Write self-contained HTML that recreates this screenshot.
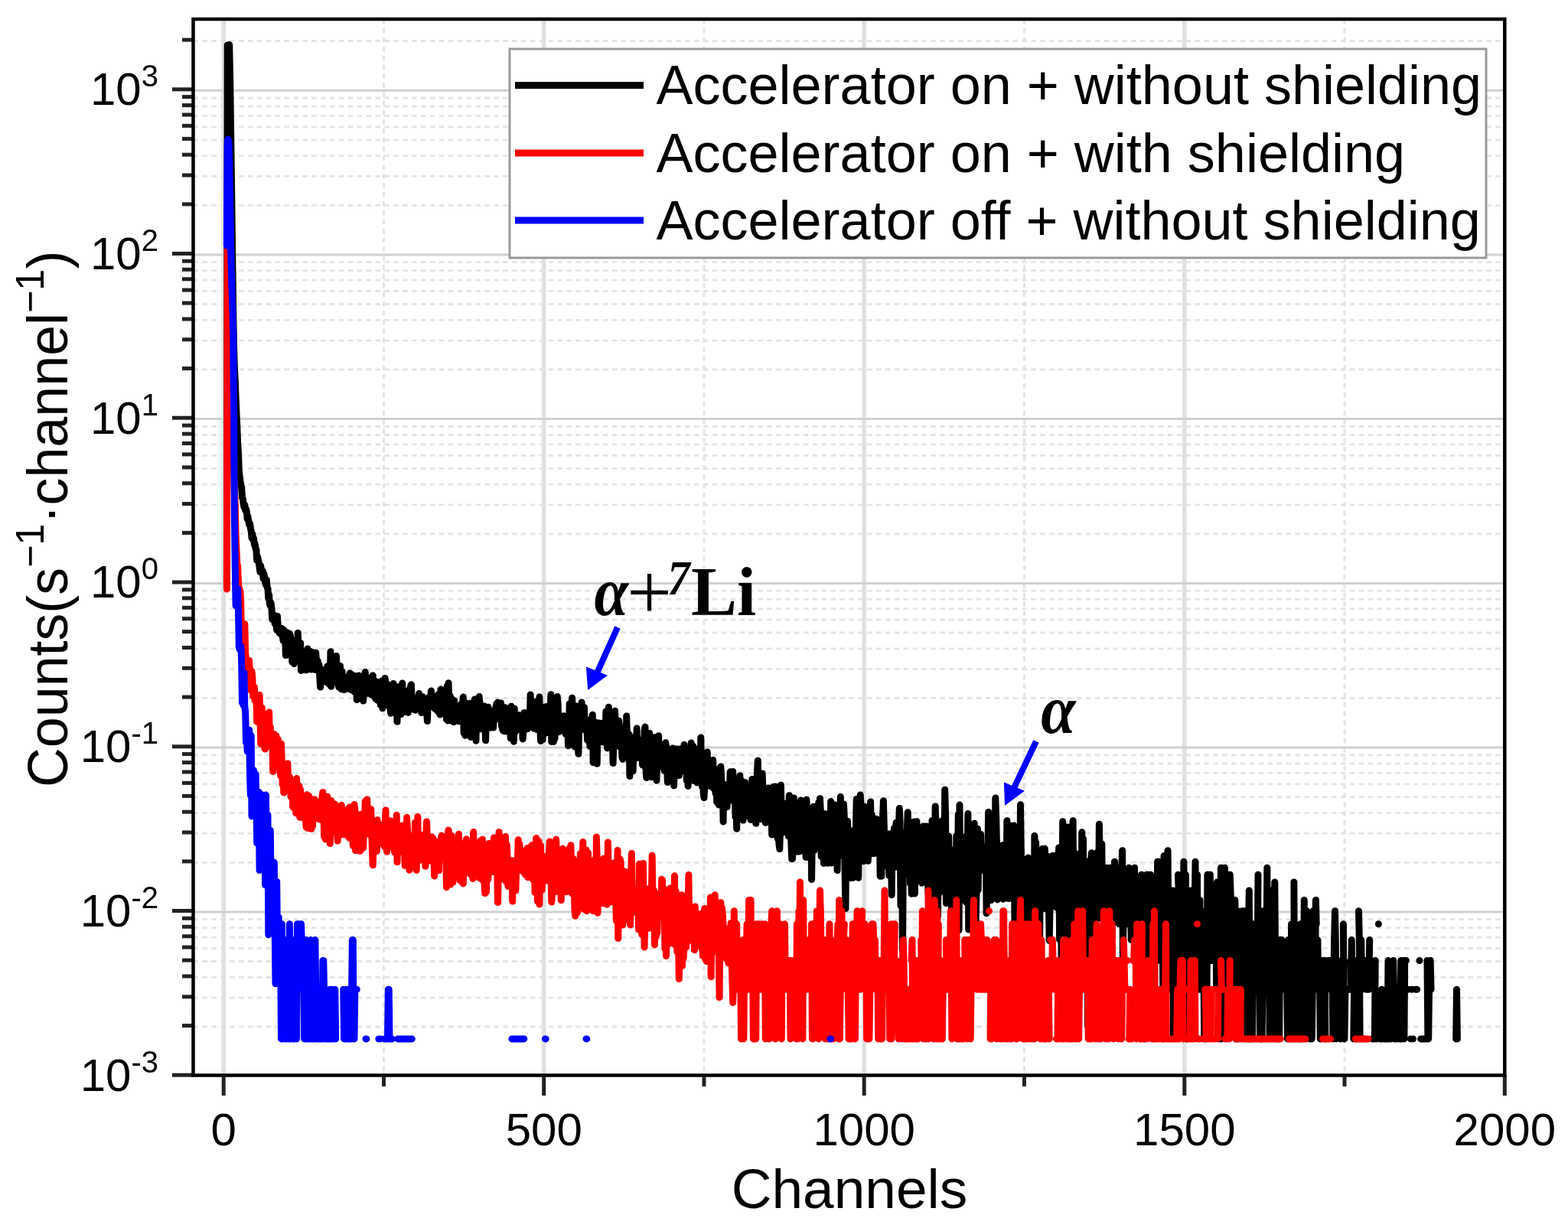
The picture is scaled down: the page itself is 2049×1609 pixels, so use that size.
<!DOCTYPE html>
<html><head><meta charset="utf-8"><title>Spectrum</title>
<style>html,body{margin:0;padding:0;background:#fff;overflow:hidden}svg{display:block}</style>
</head><body>
<svg width="2049" height="1609" viewBox="0 0 2049 1609">
<rect width="2049" height="1609" fill="#fff"/>
<g><line x1="252.5" y1="1342.0" x2="1966.3" y2="1342.0" stroke="#e4e4e4" stroke-width="2.8" stroke-dasharray="6.5 5.4"/><line x1="252.5" y1="1304.2" x2="1966.3" y2="1304.2" stroke="#e4e4e4" stroke-width="2.8" stroke-dasharray="6.5 5.4"/><line x1="252.5" y1="1277.4" x2="1966.3" y2="1277.4" stroke="#e4e4e4" stroke-width="2.8" stroke-dasharray="6.5 5.4"/><line x1="252.5" y1="1256.5" x2="1966.3" y2="1256.5" stroke="#e4e4e4" stroke-width="2.8" stroke-dasharray="6.5 5.4"/><line x1="252.5" y1="1239.5" x2="1966.3" y2="1239.5" stroke="#e4e4e4" stroke-width="2.8" stroke-dasharray="6.5 5.4"/><line x1="252.5" y1="1225.2" x2="1966.3" y2="1225.2" stroke="#e4e4e4" stroke-width="2.8" stroke-dasharray="6.5 5.4"/><line x1="252.5" y1="1212.7" x2="1966.3" y2="1212.7" stroke="#e4e4e4" stroke-width="2.8" stroke-dasharray="6.5 5.4"/><line x1="252.5" y1="1201.7" x2="1966.3" y2="1201.7" stroke="#e4e4e4" stroke-width="2.8" stroke-dasharray="6.5 5.4"/><line x1="252.5" y1="1127.3" x2="1966.3" y2="1127.3" stroke="#e4e4e4" stroke-width="2.8" stroke-dasharray="6.5 5.4"/><line x1="252.5" y1="1089.4" x2="1966.3" y2="1089.4" stroke="#e4e4e4" stroke-width="2.8" stroke-dasharray="6.5 5.4"/><line x1="252.5" y1="1062.6" x2="1966.3" y2="1062.6" stroke="#e4e4e4" stroke-width="2.8" stroke-dasharray="6.5 5.4"/><line x1="252.5" y1="1041.8" x2="1966.3" y2="1041.8" stroke="#e4e4e4" stroke-width="2.8" stroke-dasharray="6.5 5.4"/><line x1="252.5" y1="1024.8" x2="1966.3" y2="1024.8" stroke="#e4e4e4" stroke-width="2.8" stroke-dasharray="6.5 5.4"/><line x1="252.5" y1="1010.4" x2="1966.3" y2="1010.4" stroke="#e4e4e4" stroke-width="2.8" stroke-dasharray="6.5 5.4"/><line x1="252.5" y1="998.0" x2="1966.3" y2="998.0" stroke="#e4e4e4" stroke-width="2.8" stroke-dasharray="6.5 5.4"/><line x1="252.5" y1="987.0" x2="1966.3" y2="987.0" stroke="#e4e4e4" stroke-width="2.8" stroke-dasharray="6.5 5.4"/><line x1="252.5" y1="912.5" x2="1966.3" y2="912.5" stroke="#e4e4e4" stroke-width="2.8" stroke-dasharray="6.5 5.4"/><line x1="252.5" y1="874.7" x2="1966.3" y2="874.7" stroke="#e4e4e4" stroke-width="2.8" stroke-dasharray="6.5 5.4"/><line x1="252.5" y1="847.9" x2="1966.3" y2="847.9" stroke="#e4e4e4" stroke-width="2.8" stroke-dasharray="6.5 5.4"/><line x1="252.5" y1="827.0" x2="1966.3" y2="827.0" stroke="#e4e4e4" stroke-width="2.8" stroke-dasharray="6.5 5.4"/><line x1="252.5" y1="810.0" x2="1966.3" y2="810.0" stroke="#e4e4e4" stroke-width="2.8" stroke-dasharray="6.5 5.4"/><line x1="252.5" y1="795.7" x2="1966.3" y2="795.7" stroke="#e4e4e4" stroke-width="2.8" stroke-dasharray="6.5 5.4"/><line x1="252.5" y1="783.2" x2="1966.3" y2="783.2" stroke="#e4e4e4" stroke-width="2.8" stroke-dasharray="6.5 5.4"/><line x1="252.5" y1="772.2" x2="1966.3" y2="772.2" stroke="#e4e4e4" stroke-width="2.8" stroke-dasharray="6.5 5.4"/><line x1="252.5" y1="697.8" x2="1966.3" y2="697.8" stroke="#e4e4e4" stroke-width="2.8" stroke-dasharray="6.5 5.4"/><line x1="252.5" y1="659.9" x2="1966.3" y2="659.9" stroke="#e4e4e4" stroke-width="2.8" stroke-dasharray="6.5 5.4"/><line x1="252.5" y1="633.1" x2="1966.3" y2="633.1" stroke="#e4e4e4" stroke-width="2.8" stroke-dasharray="6.5 5.4"/><line x1="252.5" y1="612.3" x2="1966.3" y2="612.3" stroke="#e4e4e4" stroke-width="2.8" stroke-dasharray="6.5 5.4"/><line x1="252.5" y1="595.3" x2="1966.3" y2="595.3" stroke="#e4e4e4" stroke-width="2.8" stroke-dasharray="6.5 5.4"/><line x1="252.5" y1="580.9" x2="1966.3" y2="580.9" stroke="#e4e4e4" stroke-width="2.8" stroke-dasharray="6.5 5.4"/><line x1="252.5" y1="568.5" x2="1966.3" y2="568.5" stroke="#e4e4e4" stroke-width="2.8" stroke-dasharray="6.5 5.4"/><line x1="252.5" y1="557.5" x2="1966.3" y2="557.5" stroke="#e4e4e4" stroke-width="2.8" stroke-dasharray="6.5 5.4"/><line x1="252.5" y1="483.0" x2="1966.3" y2="483.0" stroke="#e4e4e4" stroke-width="2.8" stroke-dasharray="6.5 5.4"/><line x1="252.5" y1="445.2" x2="1966.3" y2="445.2" stroke="#e4e4e4" stroke-width="2.8" stroke-dasharray="6.5 5.4"/><line x1="252.5" y1="418.4" x2="1966.3" y2="418.4" stroke="#e4e4e4" stroke-width="2.8" stroke-dasharray="6.5 5.4"/><line x1="252.5" y1="397.5" x2="1966.3" y2="397.5" stroke="#e4e4e4" stroke-width="2.8" stroke-dasharray="6.5 5.4"/><line x1="252.5" y1="380.5" x2="1966.3" y2="380.5" stroke="#e4e4e4" stroke-width="2.8" stroke-dasharray="6.5 5.4"/><line x1="252.5" y1="366.2" x2="1966.3" y2="366.2" stroke="#e4e4e4" stroke-width="2.8" stroke-dasharray="6.5 5.4"/><line x1="252.5" y1="353.7" x2="1966.3" y2="353.7" stroke="#e4e4e4" stroke-width="2.8" stroke-dasharray="6.5 5.4"/><line x1="252.5" y1="342.7" x2="1966.3" y2="342.7" stroke="#e4e4e4" stroke-width="2.8" stroke-dasharray="6.5 5.4"/><line x1="252.5" y1="268.3" x2="1966.3" y2="268.3" stroke="#e4e4e4" stroke-width="2.8" stroke-dasharray="6.5 5.4"/><line x1="252.5" y1="230.4" x2="1966.3" y2="230.4" stroke="#e4e4e4" stroke-width="2.8" stroke-dasharray="6.5 5.4"/><line x1="252.5" y1="203.6" x2="1966.3" y2="203.6" stroke="#e4e4e4" stroke-width="2.8" stroke-dasharray="6.5 5.4"/><line x1="252.5" y1="182.8" x2="1966.3" y2="182.8" stroke="#e4e4e4" stroke-width="2.8" stroke-dasharray="6.5 5.4"/><line x1="252.5" y1="165.8" x2="1966.3" y2="165.8" stroke="#e4e4e4" stroke-width="2.8" stroke-dasharray="6.5 5.4"/><line x1="252.5" y1="151.4" x2="1966.3" y2="151.4" stroke="#e4e4e4" stroke-width="2.8" stroke-dasharray="6.5 5.4"/><line x1="252.5" y1="139.0" x2="1966.3" y2="139.0" stroke="#e4e4e4" stroke-width="2.8" stroke-dasharray="6.5 5.4"/><line x1="252.5" y1="128.0" x2="1966.3" y2="128.0" stroke="#e4e4e4" stroke-width="2.8" stroke-dasharray="6.5 5.4"/><line x1="252.5" y1="53.5" x2="1966.3" y2="53.5" stroke="#e4e4e4" stroke-width="2.8" stroke-dasharray="6.5 5.4"/><line x1="501.5" y1="25.0" x2="501.5" y2="1405.5" stroke="#e4e4e4" stroke-width="3" stroke-dasharray="6.5 5.4"/><line x1="920.0" y1="25.0" x2="920.0" y2="1405.5" stroke="#e4e4e4" stroke-width="3" stroke-dasharray="6.5 5.4"/><line x1="1338.5" y1="25.0" x2="1338.5" y2="1405.5" stroke="#e4e4e4" stroke-width="3" stroke-dasharray="6.5 5.4"/><line x1="1757.0" y1="25.0" x2="1757.0" y2="1405.5" stroke="#e4e4e4" stroke-width="3" stroke-dasharray="6.5 5.4"/><line x1="292.2" y1="25.0" x2="292.2" y2="1405.5" stroke="#e0e0e0" stroke-width="5.5"/><line x1="710.7" y1="25.0" x2="710.7" y2="1405.5" stroke="#e0e0e0" stroke-width="5.5"/><line x1="1129.2" y1="25.0" x2="1129.2" y2="1405.5" stroke="#e0e0e0" stroke-width="5.5"/><line x1="1547.8" y1="25.0" x2="1547.8" y2="1405.5" stroke="#e0e0e0" stroke-width="5.5"/><line x1="252.5" y1="1191.9" x2="1966.3" y2="1191.9" stroke="#d0d0d0" stroke-width="3"/><line x1="252.5" y1="977.1" x2="1966.3" y2="977.1" stroke="#d0d0d0" stroke-width="3"/><line x1="252.5" y1="762.4" x2="1966.3" y2="762.4" stroke="#d0d0d0" stroke-width="3"/><line x1="252.5" y1="547.6" x2="1966.3" y2="547.6" stroke="#d0d0d0" stroke-width="3"/><line x1="252.5" y1="332.9" x2="1966.3" y2="332.9" stroke="#d0d0d0" stroke-width="3"/><line x1="252.5" y1="118.2" x2="1966.3" y2="118.2" stroke="#d0d0d0" stroke-width="3"/></g>
<path d="M296.4 761.3 297.2 58.9 298.1 59.3 298.9 59.5 299.7 58.5 300.6 101.4 301.4 157.6 302.2 215.5 303.1 285.8 303.9 348.7 304.8 411.1 305.6 456.1 306.4 480.1 307.3 498.3 308.1 520.0 308.9 538.8 309.8 557.2 310.6 578.3 311.5 591.2 312.3 614.9 313.1 621.8 314.0 628.9 314.8 634.2 315.6 636.5 316.5 650.3 317.3 652.0 318.1 658.1 319.0 663.0 319.8 659.9 320.7 667.2 321.5 665.2 322.3 668.5 323.2 678.3 324.0 675.1 324.8 680.8 325.7 685.7 326.5 684.2 327.4 690.7 328.2 694.2 329.0 703.0 329.9 698.1 330.7 705.5 331.5 703.4 332.4 712.0 333.2 710.8 334.1 717.1 334.9 718.4 335.7 732.4 336.6 727.6 337.4 731.8 338.2 735.0 339.1 741.5 339.9 747.6 340.7 739.7 341.6 745.4 342.4 747.4 343.3 746.5 344.1 756.4 344.9 750.0 345.8 756.0 346.6 760.6 347.4 764.2 348.3 758.0 349.1 767.7 350.0 769.3 350.8 782.3 351.6 777.7 352.5 790.0 353.3 791.4 354.1 788.2 355.0 795.9 355.8 809.6 356.7 808.2 357.5 808.6 358.3 804.2 359.2 815.4 360.0 805.5 360.8 813.8 361.7 823.6 362.5 805.4 363.3 820.0 364.2 824.3 365.0 827.5 365.9 824.2 366.7 828.7 367.5 824.6 368.4 821.6 369.2 828.5 370.0 837.4 370.9 823.5 371.7 836.5 372.6 831.3 373.4 856.6 374.2 826.4 375.1 843.9 375.9 830.2 376.7 850.9 377.6 842.2 378.4 827.9 379.3 830.4 380.1 839.9 380.9 836.5 381.8 865.1 382.6 852.1 383.4 848.4 384.3 867.5 385.1 853.8 385.9 847.2 386.8 841.1 387.6 853.0 388.5 838.8 389.3 827.2 390.1 853.7 391.0 846.4 391.8 847.2 392.6 840.5 393.5 876.4 394.3 851.8 395.2 861.8 396.0 870.0 396.8 870.2 397.7 862.5 398.5 854.7 399.3 866.0 400.2 876.0 401.0 863.5 401.9 848.0 402.7 872.4 403.5 856.5 404.4 851.0 405.2 865.3 406.0 872.5 406.9 875.1 407.7 852.5 408.5 859.6 409.4 867.8 410.2 865.5 411.1 875.3 411.9 870.8 412.7 853.2 413.6 864.1 414.4 865.3 415.2 863.7 416.1 877.3 416.9 868.8 417.8 884.6 418.6 898.1 419.4 874.6 420.3 879.2 421.1 881.2 421.9 890.5 422.8 879.2 423.6 879.3 424.5 886.5 425.3 885.5 426.1 891.5 427.0 884.9 427.8 870.8 428.6 890.3 429.5 871.5 430.3 894.5 431.2 888.5 432.0 851.8 432.8 897.3 433.7 871.7 434.5 891.8 435.3 879.6 436.2 877.3 437.0 873.6 437.8 884.9 438.7 890.9 439.5 857.6 440.4 877.7 441.2 878.1 442.0 894.8 442.9 898.5 443.7 879.9 444.5 870.4 445.4 893.8 446.2 900.7 447.1 877.8 447.9 895.3 448.7 884.1 449.6 901.6 450.4 890.2 451.2 899.4 452.1 895.4 452.9 900.3 453.8 888.6 454.6 895.6 455.4 889.2 456.3 898.2 457.1 880.0 457.9 901.2 458.8 897.3 459.6 881.7 460.4 892.6 461.3 902.8 462.1 901.2 463.0 904.4 463.8 883.5 464.6 895.6 465.5 896.5 466.3 914.7 467.1 886.8 468.0 886.7 468.8 883.0 469.7 910.8 470.5 884.2 471.3 905.6 472.2 894.3 473.0 897.4 473.8 889.6 474.7 916.1 475.5 899.3 476.4 891.7 477.2 878.5 478.0 903.5 478.9 895.7 479.7 884.9 480.5 906.3 481.4 905.6 482.2 902.4 483.0 886.6 483.9 906.9 484.7 900.3 485.6 908.2 486.4 901.7 487.2 882.9 488.1 896.0 488.9 897.8 489.7 909.9 490.6 913.0 491.4 894.5 492.3 891.0 493.1 915.2 493.9 910.0 494.8 912.3 495.6 911.3 496.4 897.3 497.3 921.5 498.1 895.0 499.0 890.0 499.8 925.7 500.6 908.0 501.5 912.4 502.3 922.4 503.1 886.5 504.0 892.2 504.8 917.4 505.6 917.0 506.5 908.5 507.3 895.1 508.2 897.6 509.0 908.3 509.8 925.6 510.7 932.3 511.5 912.9 512.3 904.3 513.2 901.1 514.0 893.4 514.9 912.9 515.7 914.1 516.5 897.9 517.4 914.6 518.2 902.5 519.0 943.3 519.9 897.7 520.7 909.6 521.6 909.1 522.4 902.2 523.2 913.1 524.1 933.5 524.9 920.2 525.7 893.1 526.6 916.9 527.4 915.3 528.2 922.0 529.1 917.8 529.9 923.8 530.8 930.3 531.6 916.4 532.4 925.1 533.3 931.5 534.1 902.0 534.9 919.8 535.8 912.7 536.6 896.4 537.5 894.8 538.3 924.3 539.1 912.2 540.0 918.1 540.8 927.5 541.6 914.8 542.5 925.7 543.3 928.3 544.2 919.1 545.0 915.5 545.8 911.2 546.7 920.9 547.5 906.6 548.3 925.3 549.2 925.4 550.0 910.4 550.8 931.6 551.7 913.5 552.5 910.8 553.4 927.8 554.2 929.3 555.0 920.3 555.9 914.5 556.7 927.9 557.5 927.0 558.4 942.6 559.2 918.6 560.1 912.3 560.9 910.9 561.7 924.1 562.6 915.7 563.4 903.1 564.2 912.6 565.1 920.8 565.9 922.5 566.8 916.6 567.6 918.6 568.4 926.6 569.3 910.6 570.1 924.2 570.9 914.4 571.8 929.5 572.6 907.8 573.4 922.1 574.3 931.9 575.1 934.1 576.0 901.0 576.8 918.3 577.6 911.5 578.5 931.1 579.3 927.9 580.1 930.9 581.0 920.3 581.8 928.6 582.7 921.9 583.5 940.4 584.3 896.7 585.2 942.0 586.0 892.7 586.8 922.1 587.7 908.7 588.5 926.8 589.4 912.1 590.2 921.7 591.0 942.7 591.9 940.2 592.7 943.8 593.5 915.8 594.4 930.7 595.2 928.7 596.0 926.1 596.9 929.6 597.7 928.9 598.6 939.5 599.4 942.8 600.2 923.0 601.1 925.1 601.9 929.1 602.7 920.1 603.6 922.5 604.4 923.6 605.3 911.1 606.1 958.1 606.9 923.7 607.8 961.3 608.6 918.4 609.4 919.6 610.3 932.0 611.1 930.7 612.0 920.4 612.8 936.0 613.6 932.7 614.5 919.3 615.3 963.4 616.1 926.2 617.0 924.9 617.8 920.1 618.6 924.8 619.5 954.1 620.3 914.0 621.2 946.6 622.0 968.2 622.8 929.3 623.7 931.6 624.5 928.0 625.3 923.7 626.2 910.6 627.0 919.1 627.9 952.8 628.7 926.3 629.5 926.8 630.4 935.0 631.2 932.6 632.0 935.3 632.9 922.9 633.7 946.1 634.6 967.8 635.4 935.8 636.2 946.9 637.1 938.8 637.9 924.2 638.7 951.0 639.6 933.6 640.4 951.2 641.2 949.7 642.1 944.7 642.9 948.5 643.8 929.1 644.6 951.1 645.4 937.7 646.3 938.1 647.1 940.7 647.9 925.1 648.8 920.0 649.6 926.6 650.5 918.1 651.3 935.9 652.1 918.8 653.0 923.7 653.8 935.2 654.6 919.1 655.5 949.1 656.3 951.2 657.2 954.9 658.0 931.8 658.8 955.6 659.7 924.7 660.5 955.9 661.3 943.0 662.2 938.1 663.0 930.3 663.9 948.6 664.7 928.9 665.5 925.8 666.4 938.9 667.2 964.9 668.0 923.3 668.9 944.6 669.7 949.3 670.5 937.0 671.4 969.2 672.2 926.3 673.1 956.9 673.9 933.3 674.7 938.6 675.6 951.5 676.4 934.4 677.2 934.5 678.1 942.6 678.9 938.7 679.8 935.9 680.6 949.9 681.4 954.9 682.3 941.7 683.1 965.9 683.9 956.9 684.8 931.6 685.6 931.5 686.5 943.6 687.3 932.6 688.1 944.0 689.0 952.8 689.8 933.0 690.6 942.0 691.5 941.6 692.3 943.9 693.1 907.9 694.0 933.2 694.8 927.8 695.7 944.7 696.5 934.0 697.3 952.1 698.2 947.1 699.0 944.8 699.8 943.0 700.7 916.9 701.5 953.4 702.4 928.7 703.2 938.3 704.0 940.4 704.9 911.1 705.7 945.3 706.5 968.4 707.4 925.7 708.2 932.7 709.1 966.7 709.9 933.7 710.7 958.2 711.6 945.0 712.4 924.0 713.2 958.1 714.1 946.8 714.9 923.6 715.7 944.6 716.6 950.3 717.4 930.7 718.3 928.7 719.1 927.8 719.9 907.7 720.8 969.6 721.6 969.2 722.4 953.0 723.3 969.5 724.1 958.1 725.0 965.3 725.8 934.8 726.6 929.3 727.5 954.9 728.3 910.6 729.1 918.7 730.0 956.7 730.8 950.4 731.7 948.5 732.5 936.3 733.3 935.9 734.2 944.1 735.0 941.6 735.8 942.1 736.7 935.7 737.5 956.0 738.3 944.4 739.2 959.7 740.0 945.4 740.9 950.7 741.7 944.2 742.5 974.7 743.4 968.2 744.2 919.7 745.0 941.4 745.9 959.1 746.7 938.6 747.6 912.3 748.4 927.6 749.2 963.0 750.1 957.9 750.9 975.9 751.7 963.2 752.6 931.2 753.4 922.9 754.3 945.3 755.1 970.2 755.9 985.3 756.8 944.8 757.6 948.8 758.4 950.4 759.3 948.7 760.1 918.0 760.9 953.6 761.8 944.6 762.6 939.3 763.5 924.7 764.3 951.8 765.1 952.9 766.0 940.3 766.8 950.8 767.6 967.4 768.5 952.0 769.3 954.1 770.2 965.1 771.0 975.7 771.8 965.4 772.7 961.2 773.5 940.4 774.3 934.2 775.2 996.8 776.0 951.0 776.9 956.5 777.7 952.3 778.5 944.3 779.4 968.3 780.2 998.3 781.0 949.1 781.9 958.0 782.7 944.9 783.5 948.5 784.4 961.0 785.2 945.5 786.1 960.5 786.9 950.1 787.7 969.9 788.6 952.3 789.4 952.0 790.2 967.9 791.1 956.7 791.9 929.9 792.8 964.9 793.6 977.9 794.4 933.8 795.3 924.3 796.1 954.6 796.9 950.7 797.8 946.9 798.6 964.0 799.5 944.7 800.3 963.3 801.1 997.6 802.0 966.1 802.8 955.2 803.6 929.3 804.5 962.9 805.3 972.4 806.1 960.4 807.0 963.8 807.8 971.7 808.7 942.2 809.5 955.9 810.3 976.8 811.2 961.5 812.0 949.5 812.8 989.3 813.7 992.3 814.5 969.9 815.4 975.4 816.2 983.3 817.0 975.1 817.9 990.8 818.7 936.1 819.5 963.7 820.4 958.1 821.2 979.5 822.1 960.2 822.9 1014.4 823.7 982.5 824.6 964.4 825.4 981.7 826.2 971.8 827.1 1007.8 827.9 977.1 828.7 966.7 829.6 963.1 830.4 974.6 831.3 985.7 832.1 952.0 832.9 990.4 833.8 985.3 834.6 978.5 835.4 972.2 836.3 967.2 837.1 990.2 838.0 967.1 838.8 968.7 839.6 1000.0 840.5 969.5 841.3 993.9 842.1 955.1 843.0 950.1 843.8 1001.9 844.7 1016.5 845.5 995.7 846.3 986.6 847.2 983.2 848.0 988.9 848.8 958.5 849.7 977.6 850.5 972.8 851.3 1015.8 852.2 976.5 853.0 990.9 853.9 982.9 854.7 985.8 855.5 963.7 856.4 1009.2 857.2 976.1 858.0 1020.2 858.9 979.2 859.7 987.1 860.6 961.7 861.4 989.2 862.2 980.2 863.1 1001.8 863.9 984.8 864.7 987.8 865.6 992.3 866.4 994.5 867.3 986.1 868.1 1007.4 868.9 990.7 869.8 970.7 870.6 976.8 871.4 983.3 872.3 1022.5 873.1 1013.2 873.9 1018.7 874.8 1003.1 875.6 997.5 876.5 982.6 877.3 1003.2 878.1 1004.7 879.0 977.9 879.8 1001.7 880.6 1026.9 881.5 991.0 882.3 1014.7 883.2 995.5 884.0 978.9 884.8 987.2 885.7 1009.9 886.5 1002.3 887.3 1013.6 888.2 979.0 889.0 986.2 889.9 996.9 890.7 988.3 891.5 979.8 892.4 1008.1 893.2 990.2 894.0 973.4 894.9 1006.6 895.7 979.8 896.6 992.4 897.4 1020.2 898.2 1005.0 899.1 1027.5 899.9 992.1 900.7 1019.5 901.6 1006.1 902.4 1008.7 903.2 971.1 904.1 993.4 904.9 1003.4 905.8 975.5 906.6 1020.4 907.4 993.1 908.3 999.7 909.1 1003.0 909.9 992.9 910.8 1022.9 911.6 979.0 912.5 1000.5 913.3 999.7 914.1 1002.9 915.0 1006.6 915.8 963.9 916.6 1011.7 917.5 1028.3 918.3 983.9 919.2 1035.7 920.0 1042.7 920.8 1028.8 921.7 1016.3 922.5 1002.4 923.3 1016.1 924.2 983.0 925.0 1012.9 925.8 1021.7 926.7 1012.7 927.5 1007.0 928.4 1027.8 929.2 1024.4 930.0 1021.2 930.9 1024.2 931.7 993.4 932.5 1030.5 933.4 1014.6 934.2 1011.6 935.1 1037.2 935.9 1005.7 936.7 1048.3 937.6 1017.0 938.4 1023.1 939.2 1052.0 940.1 1040.1 940.9 1051.8 941.8 1002.1 942.6 1013.3 943.4 1036.0 944.3 1025.5 945.1 1074.0 945.9 1025.3 946.8 1039.2 947.6 1055.1 948.4 1042.8 949.3 1038.8 950.1 1054.7 951.0 1031.4 951.8 1027.9 952.6 1038.5 953.5 1027.8 954.3 1008.8 955.1 1024.3 956.0 1046.1 956.8 1042.1 957.7 1008.5 958.5 1045.9 959.3 1041.9 960.2 1020.6 961.0 1067.8 961.8 1041.7 962.7 1083.2 963.5 1023.6 964.4 1037.7 965.2 1062.7 966.0 1067.4 966.9 1013.7 967.7 1049.3 968.5 1019.9 969.4 1053.5 970.2 1049.1 971.0 1072.1 971.9 1057.7 972.7 1067.0 973.6 1022.7 974.4 1066.9 975.2 1048.8 976.1 1062.0 976.9 1044.5 977.7 1052.9 978.6 1066.6 979.4 1057.2 980.3 1048.4 981.1 1071.5 981.9 1071.4 982.8 1018.6 983.6 1061.5 984.4 1032.3 985.3 1018.4 986.1 1025.0 987.0 1066.1 987.8 1076.3 988.6 1035.7 989.5 1008.5 990.3 994.2 991.1 1039.4 992.0 1035.4 992.8 1031.6 993.6 1051.6 994.5 1070.6 995.3 1056.0 996.2 1011.0 997.0 1038.9 997.8 1065.3 998.7 1055.7 999.5 1065.2 1000.3 1075.3 1001.2 1069.9 1002.0 1034.2 1002.9 1050.5 1003.7 1030.1 1004.5 1050.1 1005.4 1045.6 1006.2 1045.4 1007.0 1033.1 1007.9 1058.5 1008.7 1091.1 1009.6 1079.0 1010.4 1028.6 1011.2 1073.1 1012.1 1078.5 1012.9 1028.0 1013.7 1048.1 1014.6 1067.1 1015.4 1043.4 1016.2 1096.0 1017.1 1077.4 1017.9 1102.5 1018.8 1109.6 1019.6 1082.7 1020.4 1026.2 1021.3 1076.5 1022.1 1065.4 1022.9 1050.5 1023.8 1088.0 1024.6 1050.1 1025.5 1075.6 1026.3 1064.5 1027.1 1081.1 1028.0 1064.1 1028.8 1074.8 1029.6 1053.7 1030.5 1093.1 1031.3 1039.8 1032.2 1053.3 1033.0 1043.8 1033.8 1099.5 1034.7 1122.8 1035.5 1122.6 1036.3 1106.4 1037.2 1043.1 1038.0 1091.9 1038.8 1062.1 1039.7 1091.6 1040.5 1105.8 1041.4 1067.1 1042.2 1113.3 1043.0 1105.4 1043.9 1084.4 1044.7 1112.9 1045.5 1050.8 1046.4 1045.9 1047.2 1060.7 1048.1 1071.5 1048.9 1090.2 1049.7 1060.4 1050.6 1065.7 1051.4 1060.3 1052.2 1097.0 1053.1 1120.5 1053.9 1045.2 1054.8 1065.4 1055.6 1120.4 1056.4 1065.3 1057.3 1104.1 1058.1 1120.3 1058.9 1070.8 1059.8 1070.8 1060.6 1149.6 1061.4 1089.5 1062.3 1089.4 1063.1 1054.2 1064.0 1111.6 1064.8 1089.3 1065.6 1076.3 1066.5 1064.6 1067.3 1070.2 1068.1 1082.4 1069.0 1103.4 1069.8 1048.7 1070.7 1095.9 1071.5 1043.7 1072.3 1058.7 1073.2 1119.6 1074.0 1088.7 1074.8 1075.7 1075.7 1095.6 1076.5 1128.5 1077.4 1095.5 1078.2 1063.7 1079.0 1102.9 1079.9 1119.3 1080.7 1119.2 1081.5 1128.3 1082.4 1075.2 1083.2 1110.6 1084.0 1095.1 1084.9 1102.5 1085.7 1047.4 1086.6 1128.1 1087.4 1074.8 1088.2 1068.7 1089.1 1118.8 1089.9 1102.2 1090.7 1052.0 1091.6 1118.7 1092.4 1102.1 1093.3 1087.4 1094.1 1137.6 1094.9 1087.3 1095.8 1062.4 1096.6 1074.1 1097.4 1101.8 1098.3 1041.4 1099.1 1080.3 1100.0 1109.6 1100.8 1118.1 1101.6 1061.9 1102.5 1051.0 1103.3 1067.5 1104.1 1137.2 1105.0 1187.6 1105.8 1073.4 1106.6 1093.6 1107.5 1073.3 1108.3 1093.5 1109.2 1109.1 1110.0 1147.7 1110.8 1136.8 1111.7 1126.8 1112.5 1086.1 1113.3 1086.0 1114.2 1147.5 1115.0 1126.6 1115.9 1093.0 1116.7 1092.9 1117.5 1136.5 1118.4 1085.6 1119.2 1044.4 1120.0 1054.8 1120.9 1108.3 1121.7 1147.2 1122.6 1060.1 1123.4 1116.8 1124.2 1039.0 1125.1 1054.3 1125.9 1108.0 1126.7 1078.2 1127.6 1099.8 1128.4 1125.8 1129.2 1053.9 1130.1 1107.7 1130.9 1107.6 1131.8 1059.4 1132.6 1099.4 1133.4 1059.2 1134.3 1125.4 1135.1 1107.4 1135.9 1091.5 1136.8 1071.0 1137.6 1048.0 1138.5 1115.8 1139.3 1064.7 1140.1 1070.8 1141.0 1084.0 1141.8 1115.6 1142.6 1115.5 1143.5 1070.5 1144.3 1098.6 1145.2 1070.4 1146.0 1106.6 1146.8 1083.6 1147.7 1115.2 1148.5 1090.6 1149.3 1083.4 1150.2 1145.3 1151.0 1124.2 1151.9 1145.2 1152.7 1090.3 1153.5 1069.8 1154.4 1046.8 1155.2 1076.2 1156.0 1105.9 1156.9 1097.7 1157.7 1123.8 1158.5 1090.0 1159.4 1097.6 1160.2 1133.8 1161.1 1089.9 1161.9 1144.6 1162.7 1105.5 1163.6 1105.5 1164.4 1089.7 1165.2 1169.7 1166.1 1097.2 1166.9 1133.4 1167.8 1089.5 1168.6 1082.2 1169.4 1105.2 1170.3 1133.2 1171.1 1075.3 1171.9 1105.0 1172.8 1082.0 1173.6 1104.9 1174.5 1081.9 1175.3 1056.6 1176.1 1075.0 1177.0 1183.9 1177.8 1169.0 1178.6 1096.5 1179.5 1242.9 1180.3 1132.6 1181.1 1132.6 1182.0 1088.7 1182.8 1113.1 1183.7 1096.2 1184.5 1104.3 1185.3 1088.5 1186.2 1061.8 1187.0 1088.4 1187.8 1143.2 1188.7 1074.3 1189.5 1155.1 1190.4 1122.0 1191.2 1168.2 1192.0 1132.0 1192.9 1103.8 1193.7 1080.8 1194.5 1074.0 1195.4 1168.0 1196.2 1112.3 1197.1 1095.4 1197.9 1073.8 1198.7 1112.2 1199.6 1142.5 1200.4 1095.3 1201.2 1103.3 1202.1 1131.4 1202.9 1103.2 1203.7 1131.3 1204.6 1154.2 1205.4 1103.1 1206.3 1080.1 1207.1 1103.0 1207.9 1121.0 1208.8 1131.0 1209.6 1102.9 1210.4 1079.9 1211.3 1120.8 1212.1 1130.8 1213.0 1167.0 1213.8 1102.6 1214.6 1120.6 1215.5 1130.6 1216.3 1102.5 1217.1 1120.4 1218.0 1072.6 1218.8 1130.4 1219.7 1217.7 1220.5 1110.9 1221.3 1153.2 1222.2 1053.9 1223.0 1079.1 1223.8 1072.3 1224.7 1110.7 1225.5 1197.9 1226.3 1078.9 1227.2 1093.7 1228.0 1166.1 1228.9 1166.1 1229.7 1152.8 1230.5 1129.8 1231.4 1085.9 1232.2 1071.8 1233.0 1152.6 1233.9 1165.8 1234.7 1032.2 1235.6 1065.2 1236.4 1180.5 1237.2 1119.3 1238.1 1109.9 1238.9 1165.5 1239.7 1093.0 1240.6 1165.4 1241.4 1109.7 1242.3 1140.0 1243.1 1165.3 1243.9 1216.3 1244.8 1151.9 1245.6 1151.9 1246.4 1165.1 1247.3 1151.8 1248.1 1128.8 1248.9 1196.6 1249.8 1092.4 1250.6 1179.7 1251.5 1128.6 1252.3 1064.2 1253.1 1215.7 1254.0 1052.1 1254.8 1164.6 1255.6 1092.1 1256.5 1108.9 1257.3 1139.2 1258.2 1128.2 1259.0 1164.4 1259.8 1128.1 1260.7 1128.0 1261.5 1150.9 1262.3 1179.0 1263.2 1138.8 1264.0 1127.8 1264.9 1063.5 1265.7 1215.0 1266.5 1127.7 1267.4 1108.2 1268.2 1150.6 1269.0 1150.5 1269.9 1117.4 1270.7 1214.7 1271.5 1091.2 1272.4 1099.3 1273.2 1076.3 1274.1 1138.2 1274.9 1214.5 1275.7 1178.2 1276.6 1150.1 1277.4 1083.2 1278.2 1163.2 1279.1 1098.8 1279.9 1126.9 1280.8 1126.8 1281.6 1090.5 1282.4 1137.6 1283.3 1116.5 1284.1 1107.1 1284.9 1137.4 1285.8 1106.9 1286.6 1116.2 1287.5 1137.2 1288.3 1106.7 1289.1 1193.9 1290.0 1136.9 1290.8 1125.9 1291.6 1061.5 1292.5 1097.7 1293.3 1125.7 1294.1 1176.7 1295.0 1176.6 1295.8 1148.4 1296.7 1136.4 1297.5 1089.1 1298.3 1105.8 1299.2 1089.0 1300.0 1148.1 1300.8 1043.1 1301.7 1067.1 1302.5 1105.5 1303.4 1175.9 1304.2 1105.3 1305.0 1160.9 1305.9 1135.6 1306.7 1124.5 1307.5 1160.7 1308.4 1147.3 1309.2 1135.3 1310.1 1104.8 1310.9 1175.2 1311.7 1147.0 1312.6 1113.9 1313.4 1123.9 1314.2 1134.8 1315.1 1134.8 1315.9 1072.7 1316.7 1113.6 1317.6 1174.6 1318.4 1174.6 1319.3 1079.6 1320.1 1146.3 1320.9 1079.4 1321.8 1113.1 1322.6 1113.1 1323.4 1134.0 1324.3 1174.0 1325.1 1079.1 1326.0 1210.1 1326.8 1159.0 1327.6 1190.6 1328.5 1103.2 1329.3 1209.8 1330.1 1103.1 1331.0 1094.3 1331.8 1102.9 1332.7 1173.3 1333.5 1051.7 1334.3 1112.0 1335.2 1173.1 1336.0 1122.0 1336.8 1144.9 1337.7 1132.8 1338.5 1144.7 1339.3 1157.9 1340.2 1189.5 1341.0 1144.5 1341.9 1296.0 1342.7 1231.6 1343.5 1121.3 1344.4 1144.2 1345.2 1144.1 1346.0 1157.3 1346.9 1188.9 1347.7 1131.9 1348.6 1157.1 1349.4 1171.9 1350.2 1171.8 1351.1 1259.0 1351.9 1092.5 1352.7 1143.5 1353.6 1101.0 1354.4 1143.3 1355.3 1131.3 1356.1 1207.5 1356.9 1120.2 1357.8 1120.1 1358.6 1230.2 1359.4 1119.9 1360.3 1119.9 1361.1 1187.7 1361.9 1109.6 1362.8 1170.7 1363.6 1130.5 1364.5 1187.4 1365.3 1109.3 1366.1 1187.2 1367.0 1142.2 1367.8 1119.2 1368.6 1119.1 1369.5 1142.0 1370.3 1170.0 1371.2 1229.2 1372.0 1186.7 1372.8 1155.0 1373.7 1141.7 1374.5 1129.6 1375.3 1118.6 1376.2 1141.5 1377.0 1141.4 1377.9 1141.4 1378.7 1118.4 1379.5 1141.3 1380.4 1186.1 1381.2 1186.0 1382.0 1118.1 1382.9 1129.0 1383.7 1107.9 1384.6 1228.2 1385.4 1205.1 1386.2 1117.8 1387.1 1256.1 1387.9 1205.0 1388.7 1073.8 1389.6 1255.9 1390.4 1117.5 1391.2 1168.5 1392.1 1089.3 1392.9 1153.5 1393.8 1168.3 1394.6 1081.0 1395.4 1185.0 1396.3 1227.3 1397.1 1153.2 1397.9 1153.2 1398.8 1139.8 1399.6 1106.7 1400.5 1106.7 1401.3 1097.3 1402.1 1072.8 1403.0 1184.4 1403.8 1127.5 1404.6 1254.8 1405.5 1167.4 1406.3 1254.6 1407.2 1116.2 1408.0 1127.1 1408.8 1152.3 1409.7 1226.3 1410.5 1139.0 1411.3 1226.2 1412.2 1226.1 1413.0 1183.7 1413.8 1087.7 1414.7 1138.6 1415.5 1096.2 1416.4 1225.8 1417.2 1202.8 1418.0 1202.7 1418.9 1202.6 1419.7 1151.5 1420.5 1126.2 1421.4 1340.8 1422.2 1138.1 1423.1 1138.0 1423.9 1182.9 1424.7 1253.3 1425.6 1125.8 1426.4 1114.8 1427.2 1182.6 1428.1 1202.0 1428.9 1253.0 1429.8 1165.6 1430.6 1201.7 1431.4 1150.5 1432.3 1137.1 1433.1 1165.1 1433.9 1113.9 1434.8 1181.7 1435.6 1164.7 1436.4 1077.3 1437.3 1124.4 1438.1 1200.6 1439.0 1181.1 1439.8 1103.0 1440.6 1200.2 1441.5 1153.0 1442.3 1164.0 1443.1 1164.0 1444.0 1228.6 1444.8 1153.0 1445.7 1134.3 1446.5 1207.8 1447.3 1164.0 1448.2 1176.4 1449.0 1190.8M1450.7 1134.3 1451.5 1176.4 1452.4 1228.6 1453.2 1228.6 1454.0 1164.0 1454.9 1176.4 1455.7 1164.0 1456.5 1126.2 1457.4 1164.0 1458.2 1190.8 1459.0 1134.3 1459.9 1143.2 1460.7 1176.4 1461.6 1153.0 1462.4 1207.8 1463.2 1164.0 1464.1 1207.8 1464.9 1143.2 1465.7 1134.3 1466.6 1111.8 1467.4 1255.5 1468.3 1176.4 1469.1 1190.8 1469.9 1176.4 1470.8 1153.0 1471.6 1176.4 1472.4 1176.4 1473.3 1207.8 1474.1 1164.0 1475.0 1134.3 1475.8 1176.4 1476.6 1164.0 1477.5 1190.8 1478.3 1228.6 1479.1 1176.4 1480.0 1153.0 1480.8 1228.6 1481.6 1228.6 1482.5 1134.3 1483.3 1164.0 1484.2 1228.6 1485.0 1190.8 1485.8 1176.4 1486.7 1207.8 1487.5 1228.6 1488.3 1153.0 1489.2 1293.3 1490.0 1164.0 1490.9 1357.9 1491.7 1143.2 1492.5 1176.4 1493.4 1176.4 1494.2 1255.5 1495.0 1357.9 1495.9 1176.4 1496.7 1255.5 1497.6 1176.4 1498.4 1143.2 1499.2 1176.4 1500.1 1143.2 1500.9 1176.4 1501.7 1228.6 1502.6 1153.0 1503.4 1143.2 1504.2 1228.6 1505.1 1255.5 1505.9 1164.0 1506.8 1164.0 1507.6 1190.8 1508.4 1357.9 1509.3 1176.4 1510.1 1228.6 1510.9 1190.8 1511.8 1207.8 1512.6 1126.2 1513.5 1126.2 1514.3 1176.4 1515.1 1153.0 1516.0 1255.5 1516.8 1134.3 1517.6 1255.5 1518.5 1176.4 1519.3 1228.6 1520.2 1357.9 1521.0 1118.7 1521.8 1293.3 1522.7 1118.7 1523.5 1293.3 1524.3 1255.5 1525.2 1143.2 1526.0 1111.8 1526.8 1190.8 1527.7 1255.5 1528.5 1293.3 1529.4 1228.6 1530.2 1293.3 1531.0 1228.6 1531.9 1176.4 1532.7 1164.0 1533.5 1357.9 1534.4 1255.5 1535.2 1228.6 1536.1 1176.4 1536.9 1255.5 1537.7 1176.4M1539.4 1143.2 1540.2 1164.0 1541.1 1293.3 1541.9 1153.0 1542.8 1293.3 1543.6 1228.6 1544.4 1228.6 1545.3 1153.0 1546.1 1190.8 1546.9 1126.2 1547.8 1293.3 1548.6 1293.3 1549.4 1143.2 1550.3 1357.9 1551.1 1207.8 1552.0 1357.9 1552.8 1176.4 1553.6 1164.0 1554.5 1293.3 1555.3 1207.8 1556.1 1207.8 1557.0 1164.0 1557.8 1228.6 1558.7 1357.9 1559.5 1255.5 1560.3 1207.8 1561.2 1190.8 1562.0 1126.2 1562.8 1207.8 1563.7 1255.5 1564.5 1143.2 1565.4 1293.3 1566.2 1293.3 1567.0 1190.8 1567.9 1176.4 1568.7 1293.3 1569.5 1293.3 1570.4 1190.8 1571.2 1293.3 1572.0 1228.6 1572.9 1255.5 1573.7 1357.9 1574.6 1228.6 1575.4 1357.9 1576.2 1293.3 1577.1 1293.3 1577.9 1143.2 1578.7 1143.2 1579.6 1207.8 1580.4 1164.0 1581.3 1143.2 1582.1 1207.8 1582.9 1255.5 1583.8 1176.4 1584.6 1190.8 1585.4 1228.6 1586.3 1255.5 1587.1 1255.5 1588.0 1255.5 1588.8 1164.0 1589.6 1293.3 1590.5 1153.0 1591.3 1228.6 1592.1 1190.8 1593.0 1255.5 1593.8 1357.9 1594.6 1190.8 1595.5 1134.3 1596.3 1357.9 1597.2 1176.4 1598.0 1255.5 1598.8 1207.8 1599.7 1176.4 1600.5 1134.3 1601.3 1293.3M1603.0 1207.8 1603.9 1293.3 1604.7 1228.6 1605.5 1164.0 1606.4 1207.8 1607.2 1143.2 1608.0 1164.0 1608.9 1190.8 1609.7 1228.6 1610.6 1255.5 1611.4 1207.8M1613.1 1176.4 1613.9 1176.4 1614.7 1357.9 1615.6 1228.6 1616.4 1190.8 1617.3 1190.8 1618.1 1357.9M1619.8 1207.8 1620.6 1207.8 1621.4 1228.6 1622.3 1293.3 1623.1 1190.8 1623.9 1207.8 1624.8 1255.5 1625.6 1190.8 1626.5 1207.8 1627.3 1228.6 1628.1 1255.5 1629.0 1207.8 1629.8 1357.9 1630.6 1207.8 1631.5 1207.8 1632.3 1164.0 1633.2 1357.9 1634.0 1255.5 1634.8 1207.8 1635.7 1293.3 1636.5 1357.9 1637.3 1255.5 1638.2 1207.8 1639.0 1293.3 1639.9 1293.3 1640.7 1207.8 1641.5 1228.6 1642.4 1255.5 1643.2 1255.5 1644.0 1143.2M1645.7 1255.5 1646.5 1357.9 1647.4 1357.9 1648.2 1190.8 1649.1 1357.9 1649.9 1293.3 1650.7 1190.8 1651.6 1293.3 1652.4 1255.5 1653.2 1255.5 1654.1 1190.8 1654.9 1255.5 1655.8 1134.3 1656.6 1293.3 1657.4 1255.5 1658.3 1190.8 1659.1 1357.9 1659.9 1255.5 1660.8 1164.0 1661.6 1255.5 1662.5 1207.8M1664.1 1190.8 1665.0 1293.3 1665.8 1153.0 1666.6 1255.5 1667.5 1357.9 1668.3 1255.5 1669.1 1228.6 1670.0 1228.6 1670.8 1357.9 1671.7 1357.9 1672.5 1228.6 1673.3 1293.3 1674.2 1228.6 1675.0 1228.6 1675.8 1255.5 1676.7 1255.5M1678.4 1293.3 1679.2 1293.3 1680.0 1293.3 1680.9 1255.5 1681.7 1293.3 1682.5 1357.9 1683.4 1228.6M1685.9 1228.6 1686.7 1357.9 1687.6 1207.8 1688.4 1293.3 1689.2 1228.6M1690.9 1153.0 1691.7 1357.9 1692.6 1293.3 1693.4 1293.3 1694.3 1228.6 1695.1 1255.5 1695.9 1293.3 1696.8 1255.5 1697.6 1357.9 1698.4 1357.9 1699.3 1207.8 1700.1 1255.5 1701.0 1357.9 1701.8 1228.6 1702.6 1207.8 1703.5 1293.3 1704.3 1176.4M1706.8 1357.9 1707.7 1190.8 1708.5 1228.6 1709.3 1293.3 1710.2 1293.3 1711.0 1255.5 1711.8 1357.9 1712.7 1207.8 1713.5 1255.5 1714.3 1357.9 1715.2 1293.3 1716.0 1190.8 1716.9 1293.3 1717.7 1293.3 1718.5 1293.3 1719.4 1176.4 1720.2 1207.8M1721.9 1228.6 1722.7 1293.3 1723.6 1293.3 1724.4 1255.5 1725.2 1357.9 1726.1 1357.9 1726.9 1293.3 1727.7 1293.3 1728.6 1255.5M1730.3 1255.5 1731.1 1255.5 1731.9 1357.9M1734.4 1255.5h0.01M1736.9 1255.5 1737.8 1255.5 1738.6 1293.3 1739.5 1293.3 1740.3 1255.5 1741.1 1293.3 1742.0 1357.9 1742.8 1293.3 1743.6 1228.6 1744.5 1190.8 1745.3 1228.6 1746.2 1357.9 1747.0 1293.3 1747.8 1255.5M1751.2 1357.9 1752.0 1357.9 1752.9 1255.5M1755.4 1207.8 1756.2 1357.9 1757.0 1357.9 1757.9 1293.3M1760.4 1293.3 1761.2 1293.3 1762.1 1293.3 1762.9 1293.3M1764.6 1255.5 1765.4 1293.3 1766.2 1228.6 1767.1 1293.3M1768.8 1357.9 1769.6 1293.3 1770.4 1255.5 1771.3 1293.3 1772.1 1357.9 1772.9 1357.9M1775.5 1190.8 1776.3 1228.6 1777.1 1357.9M1778.8 1228.6 1779.6 1293.3 1780.5 1255.5M1782.1 1357.9h0.01M1784.7 1255.5 1785.5 1293.3 1786.3 1255.5 1787.2 1293.3 1788.0 1293.3 1788.8 1293.3 1789.7 1228.6M1793.0 1357.9 1793.9 1357.9M1795.5 1357.9 1796.4 1357.9 1797.2 1255.5M1798.9 1357.9h0.01M1801.4 1207.8h0.01M1803.1 1357.9h0.01M1804.7 1357.9 1805.6 1293.3 1806.4 1357.9M1808.9 1357.9h0.01M1810.6 1357.9 1811.4 1357.9 1812.3 1357.9 1813.1 1357.9 1814.0 1255.5 1814.8 1357.9 1815.6 1357.9M1818.1 1357.9h0.01M1819.8 1293.3 1820.7 1255.5 1821.5 1293.3 1822.3 1357.9 1823.2 1293.3 1824.0 1357.9 1824.8 1357.9 1825.7 1293.3 1826.5 1293.3 1827.3 1357.9M1829.9 1357.9 1830.7 1255.5 1831.5 1357.9 1832.4 1293.3 1833.2 1293.3 1834.0 1255.5 1834.9 1357.9 1835.7 1255.5M1837.4 1255.5h0.01M1839.9 1293.3h0.01M1843.3 1357.9h0.01M1844.9 1293.3h0.01M1846.6 1357.9h0.01M1850.0 1293.3h0.01M1851.6 1293.3h0.01M1855.0 1255.5h0.01M1856.6 1357.9h0.01M1858.3 1357.9 1859.2 1357.9 1860.0 1357.9 1860.8 1357.9M1862.5 1357.9h0.01M1865.0 1255.5 1865.9 1357.9 1866.7 1357.9 1867.5 1293.3 1868.4 1293.3 1869.2 1255.5 1870.0 1293.3M1902.7 1357.9 1903.5 1293.3 1904.4 1357.9" fill="none" stroke="#000" stroke-width="9" stroke-linejoin="round" stroke-linecap="round"/>
<path d="M296.4 770.0 297.2 319.9 298.1 331.7 298.9 359.4 299.7 380.8 300.6 410.1 301.4 441.9 302.2 477.8 303.1 503.5 303.9 532.8 304.8 567.5 305.6 602.0 306.4 642.8 307.3 658.9 308.1 698.9 308.9 717.1 309.8 736.1 310.6 739.8 311.5 761.6 312.3 770.3 313.1 770.1 314.0 773.5 314.8 792.9 315.6 831.3 316.5 821.8 317.3 830.1 318.1 827.3 319.0 851.3 319.8 815.8 320.7 853.7 321.5 860.7 322.3 862.9 323.2 880.9 324.0 887.3 324.8 878.4 325.7 863.6 326.5 888.5 327.4 883.4 328.2 902.6 329.0 877.6 329.9 886.2 330.7 910.3 331.5 905.0 332.4 898.1 333.2 916.0 334.1 912.4 334.9 908.9 335.7 943.3 336.6 920.8 337.4 917.9 338.2 939.6 339.1 908.4 339.9 934.9 340.7 972.2 341.6 937.7 342.4 925.3 343.3 938.1 344.1 941.0 344.9 939.9 345.8 978.1 346.6 979.1 347.4 970.2 348.3 961.0 349.1 944.0 350.0 950.5 350.8 962.5 351.6 930.9 352.5 966.1 353.3 950.4 354.1 975.0 355.0 977.1 355.8 961.9 356.7 1008.5 357.5 960.0 358.3 959.6 359.2 964.8 360.0 986.0 360.8 961.7 361.7 985.7 362.5 974.8 363.3 966.4 364.2 1003.2 365.0 1000.1 365.9 1006.3 366.7 1014.1 367.5 972.2 368.4 997.3 369.2 1025.3 370.0 1021.8 370.9 1036.1 371.7 1017.4 372.6 1029.1 373.4 1024.3 374.2 1023.1 375.1 1016.8 375.9 997.9 376.7 1025.1 377.6 1034.5 378.4 1015.3 379.3 1029.7 380.1 1041.4 380.9 1036.4 381.8 1027.8 382.6 1054.1 383.4 1055.7 384.3 1021.2 385.1 1043.4 385.9 1046.8 386.8 1063.0 387.6 1017.5 388.5 1046.8 389.3 1051.0 390.1 1061.4 391.0 1027.6 391.8 1068.3 392.6 1032.2 393.5 1048.8 394.3 1068.4 395.2 1047.5 396.0 1054.5 396.8 1057.5 397.7 1069.3 398.5 1061.7 399.3 1070.3 400.2 1081.2 401.0 1038.7 401.9 1082.6 402.7 1055.7 403.5 1040.4 404.4 1061.9 405.2 1061.4 406.0 1064.2 406.9 1083.3 407.7 1044.8 408.5 1079.5 409.4 1056.9 410.2 1062.6 411.1 1044.9 411.9 1062.5 412.7 1049.9 413.6 1067.8 414.4 1069.8 415.2 1048.4 416.1 1055.9 416.9 1067.7 417.8 1071.2 418.6 1050.8 419.4 1051.3 420.3 1046.6 421.1 1040.6 421.9 1035.4 422.8 1053.0 423.6 1093.5 424.5 1078.7 425.3 1096.9 426.1 1047.1 427.0 1044.9 427.8 1041.2 428.6 1053.8 429.5 1076.4 430.3 1060.2 431.2 1102.5 432.0 1079.2 432.8 1046.7 433.7 1063.8 434.5 1077.7 435.3 1087.5 436.2 1064.8 437.0 1054.7 437.8 1051.1 438.7 1067.1 439.5 1073.6 440.4 1079.3 441.2 1099.1 442.0 1075.1 442.9 1092.6 443.7 1061.7 444.5 1080.5 445.4 1087.5 446.2 1052.4 447.1 1077.6 447.9 1068.2 448.7 1090.4 449.6 1081.0 450.4 1068.9 451.2 1091.0 452.1 1063.5 452.9 1059.7 453.8 1060.4 454.6 1089.9 455.4 1056.5 456.3 1095.3 457.1 1055.0 457.9 1079.6 458.8 1066.3 459.6 1072.9 460.4 1088.4 461.3 1105.6 462.1 1106.0 463.0 1051.5 463.8 1058.9 464.6 1111.7 465.5 1071.2 466.3 1084.4 467.1 1064.6 468.0 1111.4 468.8 1090.3 469.7 1107.8 470.5 1112.5 471.3 1065.4 472.2 1092.6 473.0 1064.1 473.8 1080.6 474.7 1108.2 475.5 1081.4 476.4 1079.5 477.2 1047.3 478.0 1080.7 478.9 1052.8 479.7 1044.9 480.5 1075.3 481.4 1070.3 482.2 1088.1 483.0 1090.9 483.9 1091.2 484.7 1057.7 485.6 1079.0 486.4 1112.5 487.2 1130.8 488.1 1103.3 488.9 1093.9 489.7 1091.4 490.6 1110.1 491.4 1104.1 492.3 1112.6 493.1 1071.8 493.9 1092.5 494.8 1086.3 495.6 1089.7 496.4 1102.3 497.3 1078.3 498.1 1093.2 499.0 1096.3 499.8 1089.6 500.6 1097.7 501.5 1076.8 502.3 1106.5 503.1 1079.7 504.0 1059.1 504.8 1103.3 505.6 1113.2 506.5 1102.2 507.3 1105.9 508.2 1072.6 509.0 1090.3 509.8 1073.0 510.7 1086.1 511.5 1107.2 512.3 1093.8 513.2 1074.2 514.0 1089.9 514.9 1108.0 515.7 1114.3 516.5 1102.8 517.4 1111.9 518.2 1065.6 519.0 1126.8 519.9 1087.1 520.7 1110.9 521.6 1096.0 522.4 1111.3 523.2 1088.2 524.1 1107.3 524.9 1103.9 525.7 1079.1 526.6 1114.5 527.4 1101.8 528.2 1087.2 529.1 1131.4 529.9 1103.0 530.8 1111.4 531.6 1068.5 532.4 1082.8 533.3 1107.6 534.1 1091.4 534.9 1137.2 535.8 1132.2 536.6 1100.0 537.5 1120.8 538.3 1104.9 539.1 1130.2 540.0 1095.4 540.8 1114.0 541.6 1105.4 542.5 1075.1 543.3 1120.9 544.2 1137.4 545.0 1114.3 545.8 1067.6 546.7 1114.5 547.5 1124.7 548.3 1116.9 549.2 1117.0 550.0 1122.4 550.8 1114.9 551.7 1091.5 552.5 1107.8 553.4 1109.4 554.2 1115.5 555.0 1105.7 555.9 1132.3 556.7 1097.4 557.5 1074.1 558.4 1094.5 559.2 1115.5 560.1 1095.0 560.9 1115.3 561.7 1125.1 562.6 1113.9 563.4 1111.4 564.2 1094.1 565.1 1100.9 565.9 1095.7 566.8 1113.0 567.6 1145.0 568.4 1131.2 569.3 1106.4 570.1 1127.2 570.9 1105.1 571.8 1137.7 572.6 1100.1 573.4 1137.8 574.3 1106.9 575.1 1100.7 576.0 1116.5 576.8 1092.3 577.6 1098.0 578.5 1119.0 579.3 1097.0 580.1 1114.3 581.0 1116.2 581.8 1104.3 582.7 1116.3 583.5 1159.7 584.3 1138.0 585.2 1090.2 586.0 1085.1 586.8 1090.2 587.7 1131.4 588.5 1156.1 589.4 1114.3 590.2 1092.4 591.0 1118.7 591.9 1153.1 592.7 1108.2 593.5 1118.4 594.4 1130.8 595.2 1107.4 596.0 1143.8 596.9 1103.4 597.7 1126.1 598.6 1140.3 599.4 1090.2 600.2 1120.2 601.1 1150.7 601.9 1107.4 602.7 1119.7 603.6 1102.5 604.4 1153.7 605.3 1155.0 606.1 1131.2 606.9 1128.8 607.8 1107.0 608.6 1113.9 609.4 1096.8 610.3 1117.6 611.1 1120.9 612.0 1110.1 612.8 1101.9 613.6 1107.5 614.5 1142.5 615.3 1113.5 616.1 1120.5 617.0 1119.5 617.8 1148.4 618.6 1087.6 619.5 1109.9 620.3 1140.8 621.2 1130.1 622.0 1118.3 622.8 1126.0 623.7 1138.0 624.5 1118.9 625.3 1143.6 626.2 1147.5 627.0 1128.8 627.9 1098.9 628.7 1111.0 629.5 1149.4 630.4 1097.3 631.2 1118.1 632.0 1128.7 632.9 1154.0 633.7 1167.6 634.6 1137.9 635.4 1165.5 636.2 1137.1 637.1 1105.8 637.9 1148.9 638.7 1102.5 639.6 1109.3 640.4 1111.8 641.2 1136.1 642.1 1116.3 642.9 1104.4 643.8 1124.4 644.6 1139.6 645.4 1094.9 646.3 1130.8 647.1 1107.1 647.9 1111.0 648.8 1136.6 649.6 1132.0 650.5 1179.6 651.3 1142.5 652.1 1087.4 653.0 1141.7 653.8 1138.0 654.6 1139.5 655.5 1146.6 656.3 1129.6 657.2 1149.0 658.0 1094.9 658.8 1139.9 659.7 1135.2 660.5 1093.6 661.3 1152.3 662.2 1104.0 663.0 1119.3 663.9 1158.5 664.7 1126.3 665.5 1149.1 666.4 1142.2 667.2 1148.4 668.0 1139.6 668.9 1124.7 669.7 1178.1 670.5 1139.7 671.4 1130.2 672.2 1128.6 673.1 1143.7 673.9 1163.8 674.7 1134.2 675.6 1131.7 676.4 1121.3 677.2 1097.7 678.1 1125.0 678.9 1103.5 679.8 1136.8 680.6 1111.5 681.4 1137.7 682.3 1127.3 683.1 1139.0 683.9 1139.9 684.8 1118.0 685.6 1125.7 686.5 1143.3 687.3 1131.6 688.1 1110.3 689.0 1108.7 689.8 1146.7 690.6 1134.6 691.5 1130.9 692.3 1133.2 693.1 1119.1 694.0 1131.5 694.8 1104.8 695.7 1127.0 696.5 1149.9 697.3 1140.3 698.2 1103.9 699.0 1166.6 699.8 1131.9 700.7 1095.4 701.5 1116.7 702.4 1178.0 703.2 1148.1 704.0 1099.5 704.9 1182.0 705.7 1126.3 706.5 1105.6 707.4 1158.4 708.2 1163.4 709.1 1137.6 709.9 1119.3 710.7 1132.9 711.6 1133.7 712.4 1125.0 713.2 1119.4 714.1 1150.9 714.9 1144.5 715.7 1149.2 716.6 1128.8 717.4 1115.4 718.3 1099.9 719.1 1147.8 719.9 1137.6 720.8 1179.0 721.6 1165.6 722.4 1137.2 723.3 1108.9 724.1 1116.3 725.0 1165.9 725.8 1147.5 726.6 1097.2 727.5 1124.9 728.3 1128.0 729.1 1124.5 730.0 1141.0 730.8 1125.5 731.7 1129.2 732.5 1156.7 733.3 1176.6 734.2 1138.8 735.0 1109.2 735.8 1160.1 736.7 1139.1 737.5 1130.9 738.3 1113.8 739.2 1134.5 740.0 1165.7 740.9 1126.8 741.7 1153.8 742.5 1139.3 743.4 1109.5 744.2 1126.6 745.0 1141.2 745.9 1104.7 746.7 1135.2 747.6 1167.9 748.4 1160.3 749.2 1122.6 750.1 1128.2 750.9 1188.6 751.7 1197.2 752.6 1139.2 753.4 1141.9 754.3 1193.0 755.1 1136.9 755.9 1139.6 756.8 1184.6 757.6 1155.7 758.4 1115.8 759.3 1152.8 760.1 1169.5 760.9 1151.5 761.8 1100.5 762.6 1188.2 763.5 1144.8 764.3 1130.5 765.1 1125.4 766.0 1111.1 766.8 1190.8 767.6 1113.9 768.5 1115.0 769.3 1141.6 770.2 1160.8 771.0 1181.2 771.8 1174.1 772.7 1165.3 773.5 1170.8 774.3 1139.0 775.2 1190.7 776.0 1158.4 776.9 1123.8 777.7 1164.6 778.5 1176.7 779.4 1094.3 780.2 1122.7 781.0 1193.2 781.9 1143.3 782.7 1143.8 783.5 1158.7 784.4 1160.4 785.2 1124.8 786.1 1156.2 786.9 1157.2 787.7 1180.8 788.6 1122.3 789.4 1151.0 790.2 1157.3 791.1 1153.0 791.9 1171.6 792.8 1182.3 793.6 1181.7 794.4 1101.0 795.3 1153.5 796.1 1147.0 796.9 1147.5 797.8 1179.1 798.6 1173.2 799.5 1156.3 800.3 1167.4 801.1 1166.0 802.0 1128.1 802.8 1147.1 803.6 1140.7 804.5 1161.8 805.3 1203.5 806.1 1194.6 807.0 1111.5 807.8 1226.6 808.7 1145.2 809.5 1124.4 810.3 1123.1 811.2 1127.0 812.0 1199.6 812.8 1160.2 813.7 1209.0 814.5 1164.3 815.4 1149.6 816.2 1139.0 817.0 1198.8 817.9 1199.5 818.7 1180.2 819.5 1202.1 820.4 1140.4 821.2 1150.9 822.1 1166.7 822.9 1174.2 823.7 1208.9 824.6 1146.5 825.4 1115.6 826.2 1184.2 827.1 1192.6 827.9 1166.0 828.7 1191.6 829.6 1185.5 830.4 1164.9 831.3 1186.0 832.1 1161.7 832.9 1192.7 833.8 1164.1 834.6 1215.0 835.4 1129.3 836.3 1132.4 837.1 1186.3 838.0 1172.3 838.8 1221.4 839.6 1191.3 840.5 1128.5 841.3 1195.4 842.1 1237.9 843.0 1190.2 843.8 1166.7 844.7 1202.4 845.5 1189.0 846.3 1177.8 847.2 1185.2 848.0 1213.2 848.8 1161.0 849.7 1162.7 850.5 1185.6 851.3 1175.0 852.2 1118.3 853.0 1175.1 853.9 1199.8 854.7 1164.3 855.5 1234.9 856.4 1169.0 857.2 1224.0 858.0 1215.5 858.9 1219.5 859.7 1183.5 860.6 1172.4 861.4 1198.2 862.2 1168.6 863.1 1167.5 863.9 1197.2 864.7 1149.3 865.6 1150.5 866.4 1181.7 867.3 1161.4 868.1 1169.0 868.9 1240.2 869.8 1186.9 870.6 1249.5 871.4 1182.1 872.3 1180.9 873.1 1205.6 873.9 1165.2 874.8 1233.5 875.6 1161.0 876.5 1180.4 877.3 1212.5 878.1 1193.4 879.0 1232.0 879.8 1188.3 880.6 1205.4 881.5 1144.8 882.3 1235.4 883.2 1165.0 884.0 1197.5 884.8 1244.2 885.7 1223.9 886.5 1228.3 887.3 1279.5 888.2 1239.7 889.0 1209.8 889.9 1189.9 890.7 1169.7 891.5 1262.4 892.4 1226.0 893.2 1252.2 894.0 1236.1 894.9 1193.3 895.7 1226.0 896.6 1238.0 897.4 1215.3 898.2 1229.3 899.1 1196.6 899.9 1143.5 900.7 1203.0 901.6 1208.3 902.4 1192.5 903.2 1229.2 904.1 1197.5 904.9 1226.9 905.8 1185.8 906.6 1188.6 907.4 1241.6 908.3 1185.0 909.1 1203.9 909.9 1199.3 910.8 1227.1 911.6 1215.8 912.5 1198.3 913.3 1224.1 914.1 1226.6 915.0 1194.8 915.8 1238.0 916.6 1215.0 917.5 1201.3 918.3 1249.3 919.2 1214.6 920.0 1192.0 920.8 1187.4 921.7 1253.9 922.5 1243.9 923.3 1256.7 924.2 1229.0 925.0 1255.7 925.8 1195.5 926.7 1230.1 927.5 1231.5 928.4 1173.1 929.2 1276.8 930.0 1206.3 930.9 1191.0 931.7 1182.8 932.5 1202.5 933.4 1237.0 934.2 1169.7 935.1 1231.7 935.9 1178.9 936.7 1212.5 937.6 1186.0 938.4 1246.5 939.2 1243.6 940.1 1303.7 940.9 1212.0 941.8 1179.8 942.6 1240.4 943.4 1186.4 944.3 1195.3 945.1 1210.1 945.9 1233.4 946.8 1247.1 947.6 1213.3 948.4 1215.2 949.3 1253.2 950.1 1216.6 951.0 1242.7 951.8 1258.8 952.6 1242.3 953.5 1233.1 954.3 1252.7 955.1 1206.6 956.0 1242.0 956.8 1278.6 957.7 1310.5 958.5 1280.2 959.3 1190.8 960.2 1255.5 961.0 1293.3 961.8 1255.5 962.7 1207.8 963.5 1293.3 964.4 1228.6M966.0 1293.3 966.9 1255.5 967.7 1255.5 968.5 1357.9 969.4 1255.5 970.2 1293.3 971.0 1228.6 971.9 1357.9 972.7 1255.5 973.6 1228.6 974.4 1293.3 975.2 1255.5 976.1 1207.8 976.9 1293.3 977.7 1255.5 978.6 1176.4 979.4 1207.8 980.3 1207.8 981.1 1176.4 981.9 1293.3 982.8 1255.5 983.6 1255.5 984.4 1357.9M986.1 1357.9 987.0 1255.5 987.8 1357.9 988.6 1207.8M990.3 1228.6 991.1 1207.8 992.0 1293.3 992.8 1228.6 993.6 1293.3 994.5 1228.6 995.3 1207.8 996.2 1293.3 997.0 1293.3 997.8 1228.6 998.7 1293.3 999.5 1207.8 1000.3 1357.9 1001.2 1228.6 1002.0 1293.3 1002.9 1228.6 1003.7 1228.6 1004.5 1293.3 1005.4 1357.9 1006.2 1293.3 1007.0 1293.3 1007.9 1207.8 1008.7 1190.8 1009.6 1207.8M1011.2 1293.3 1012.1 1228.6 1012.9 1357.9 1013.7 1357.9 1014.6 1255.5 1015.4 1190.8 1016.2 1293.3 1017.1 1255.5 1017.9 1228.6M1019.6 1207.8 1020.4 1228.6 1021.3 1357.9 1022.1 1228.6 1022.9 1255.5 1023.8 1255.5 1024.6 1255.5 1025.5 1207.8 1026.3 1293.3 1027.1 1255.5M1028.8 1255.5h0.01M1030.5 1255.5h0.01M1032.2 1255.5 1033.0 1357.9 1033.8 1255.5 1034.7 1293.3 1035.5 1293.3 1036.3 1293.3 1037.2 1255.5 1038.0 1293.3 1038.8 1255.5 1039.7 1293.3 1040.5 1357.9 1041.4 1207.8 1042.2 1255.5 1043.0 1357.9 1043.9 1190.8 1044.7 1228.6 1045.5 1153.0 1046.4 1228.6 1047.2 1255.5 1048.1 1207.8 1048.9 1357.9 1049.7 1176.4 1050.6 1293.3M1052.2 1228.6 1053.1 1255.5 1053.9 1293.3 1054.8 1255.5 1055.6 1255.5M1057.3 1228.6 1058.1 1293.3 1058.9 1293.3 1059.8 1293.3 1060.6 1207.8 1061.4 1357.9 1062.3 1357.9 1063.1 1228.6 1064.0 1207.8M1065.6 1255.5 1066.5 1255.5 1067.3 1190.8 1068.1 1255.5 1069.0 1255.5 1069.8 1357.9 1070.7 1293.3 1071.5 1164.0 1072.3 1190.8 1073.2 1255.5 1074.0 1293.3 1074.8 1293.3 1075.7 1293.3 1076.5 1228.6 1077.4 1255.5 1078.2 1357.9 1079.0 1293.3 1079.9 1293.3 1080.7 1228.6 1081.5 1357.9 1082.4 1293.3 1083.2 1255.5 1084.0 1207.8 1084.9 1357.9 1085.7 1228.6 1086.6 1255.5M1088.2 1293.3 1089.1 1357.9 1089.9 1293.3 1090.7 1255.5 1091.6 1293.3M1093.3 1255.5 1094.1 1228.6 1094.9 1207.8 1095.8 1357.9 1096.6 1176.4 1097.4 1357.9 1098.3 1293.3 1099.1 1228.6 1100.0 1190.8 1100.8 1293.3 1101.6 1207.8 1102.5 1228.6 1103.3 1207.8M1105.0 1255.5 1105.8 1228.6 1106.6 1293.3 1107.5 1255.5 1108.3 1293.3 1109.2 1357.9 1110.0 1293.3 1110.8 1357.9 1111.7 1293.3 1112.5 1357.9 1113.3 1293.3 1114.2 1207.8 1115.0 1228.6 1115.9 1228.6 1116.7 1357.9 1117.5 1357.9 1118.4 1255.5 1119.2 1255.5 1120.0 1190.8 1120.9 1207.8 1121.7 1293.3M1123.4 1255.5 1124.2 1293.3 1125.1 1228.6 1125.9 1207.8 1126.7 1190.8M1129.2 1228.6 1130.1 1207.8 1130.9 1293.3 1131.8 1228.6 1132.6 1357.9 1133.4 1228.6 1134.3 1255.5 1135.1 1357.9 1135.9 1357.9 1136.8 1293.3 1137.6 1228.6 1138.5 1228.6 1139.3 1207.8 1140.1 1255.5 1141.0 1207.8 1141.8 1228.6 1142.6 1228.6 1143.5 1228.6 1144.3 1293.3 1145.2 1293.3 1146.0 1255.5 1146.8 1255.5 1147.7 1357.9 1148.5 1293.3 1149.3 1255.5 1150.2 1357.9 1151.0 1357.9 1151.9 1293.3 1152.7 1357.9 1153.5 1255.5 1154.4 1293.3 1155.2 1255.5 1156.0 1164.0 1156.9 1293.3 1157.7 1255.5 1158.5 1255.5 1159.4 1255.5 1160.2 1255.5 1161.1 1293.3 1161.9 1228.6 1162.7 1357.9 1163.6 1293.3 1164.4 1207.8 1165.2 1357.9 1166.1 1293.3 1166.9 1293.3 1167.8 1207.8 1168.6 1255.5 1169.4 1207.8M1171.1 1255.5 1171.9 1293.3 1172.8 1293.3 1173.6 1293.3 1174.5 1357.9 1175.3 1293.3 1176.1 1293.3 1177.0 1293.3M1178.6 1357.9 1179.5 1255.5 1180.3 1228.6 1181.1 1255.5 1182.0 1357.9 1182.8 1357.9 1183.7 1293.3 1184.5 1357.9 1185.3 1357.9M1187.0 1293.3 1187.8 1357.9 1188.7 1293.3 1189.5 1357.9M1191.2 1255.5 1192.0 1228.6 1192.9 1357.9M1194.5 1357.9 1195.4 1293.3 1196.2 1255.5 1197.1 1357.9 1197.9 1255.5 1198.7 1293.3 1199.6 1357.9M1201.2 1255.5 1202.1 1255.5M1203.7 1228.6 1204.6 1293.3 1205.4 1190.8 1206.3 1357.9M1207.9 1228.6h0.01M1209.6 1357.9 1210.4 1357.9 1211.3 1207.8M1213.0 1164.0 1213.8 1357.9 1214.6 1228.6 1215.5 1255.5 1216.3 1255.5 1217.1 1293.3 1218.0 1207.8 1218.8 1255.5 1219.7 1357.9 1220.5 1293.3 1221.3 1176.4 1222.2 1293.3 1223.0 1357.9 1223.8 1293.3 1224.7 1190.8 1225.5 1357.9 1226.3 1207.8M1228.0 1357.9 1228.9 1255.5 1229.7 1293.3 1230.5 1293.3 1231.4 1357.9 1232.2 1293.3 1233.0 1293.3 1233.9 1293.3 1234.7 1293.3M1236.4 1228.6 1237.2 1293.3 1238.1 1228.6 1238.9 1293.3M1241.4 1255.5 1242.3 1190.8 1243.1 1255.5 1243.9 1357.9 1244.8 1293.3 1245.6 1207.8 1246.4 1293.3 1247.3 1228.6M1248.9 1293.3 1249.8 1176.4 1250.6 1357.9 1251.5 1255.5 1252.3 1357.9 1253.1 1357.9 1254.0 1357.9 1254.8 1255.5M1256.5 1357.9 1257.3 1255.5 1258.2 1357.9 1259.0 1357.9M1260.7 1228.6 1261.5 1293.3M1263.2 1255.5 1264.0 1357.9 1264.9 1228.6 1265.7 1228.6M1267.4 1228.6 1268.2 1357.9 1269.0 1293.3 1269.9 1255.5 1270.7 1228.6 1271.5 1255.5 1272.4 1176.4 1273.2 1255.5 1274.1 1207.8 1274.9 1207.8 1275.7 1255.5 1276.6 1293.3 1277.4 1255.5M1279.9 1255.5 1280.8 1293.3 1281.6 1207.8 1282.4 1228.6 1283.3 1293.3 1284.1 1228.6 1284.9 1293.3 1285.8 1228.6M1287.5 1293.3 1288.3 1255.5 1289.1 1293.3 1290.0 1228.6 1290.8 1293.3M1292.5 1190.8h0.01M1294.1 1357.9 1295.0 1255.5 1295.8 1357.9 1296.7 1293.3 1297.5 1255.5 1298.3 1293.3 1299.2 1228.6M1300.8 1293.3 1301.7 1228.6 1302.5 1357.9 1303.4 1293.3M1305.9 1293.3 1306.7 1357.9 1307.5 1293.3 1308.4 1255.5M1310.1 1357.9 1310.9 1190.8 1311.7 1190.8 1312.6 1293.3 1313.4 1255.5 1314.2 1357.9 1315.1 1357.9M1316.7 1255.5 1317.6 1357.9 1318.4 1293.3 1319.3 1293.3M1320.9 1357.9 1321.8 1357.9 1322.6 1207.8M1324.3 1255.5 1325.1 1207.8 1326.0 1228.6 1326.8 1293.3 1327.6 1357.9M1329.3 1357.9 1330.1 1228.6 1331.0 1255.5 1331.8 1293.3 1332.7 1207.8 1333.5 1176.4 1334.3 1255.5 1335.2 1293.3M1336.8 1357.9 1337.7 1255.5 1338.5 1357.9M1340.2 1207.8 1341.0 1357.9 1341.9 1255.5M1344.4 1357.9 1345.2 1207.8 1346.0 1293.3 1346.9 1255.5 1347.7 1293.3 1348.6 1357.9 1349.4 1293.3 1350.2 1357.9 1351.1 1293.3 1351.9 1357.9 1352.7 1190.8 1353.6 1293.3 1354.4 1293.3 1355.3 1255.5 1356.1 1293.3 1356.9 1207.8 1357.8 1293.3 1358.6 1293.3 1359.4 1357.9 1360.3 1293.3 1361.1 1228.6 1361.9 1357.9 1362.8 1293.3 1363.6 1293.3 1364.5 1357.9 1365.3 1357.9 1366.1 1293.3 1367.0 1357.9M1368.6 1293.3 1369.5 1255.5 1370.3 1293.3 1371.2 1357.9M1372.8 1228.6h0.01M1374.5 1293.3 1375.3 1228.6 1376.2 1255.5M1378.7 1293.3h0.01M1380.4 1357.9 1381.2 1357.9 1382.0 1357.9 1382.9 1255.5M1384.6 1357.9 1385.4 1293.3M1387.1 1293.3 1387.9 1255.5 1388.7 1357.9 1389.6 1228.6 1390.4 1357.9 1391.2 1293.3 1392.1 1228.6 1392.9 1293.3 1393.8 1293.3 1394.6 1357.9 1395.4 1293.3M1397.9 1357.9h0.01M1399.6 1357.9 1400.5 1228.6 1401.3 1357.9 1402.1 1228.6M1403.8 1207.8 1404.6 1255.5 1405.5 1357.9 1406.3 1357.9 1407.2 1255.5 1408.0 1228.6 1408.8 1190.8 1409.7 1357.9 1410.5 1293.3 1411.3 1255.5M1413.0 1293.3 1413.8 1293.3 1414.7 1190.8 1415.5 1293.3M1417.2 1293.3 1418.0 1255.5 1418.9 1293.3 1419.7 1293.3 1420.5 1293.3 1421.4 1255.5 1422.2 1357.9 1423.1 1293.3M1424.7 1357.9 1425.6 1293.3 1426.4 1357.9 1427.2 1228.6 1428.1 1293.3 1428.9 1255.5M1430.6 1293.3 1431.4 1357.9 1432.3 1255.5 1433.1 1207.8 1433.9 1293.3 1434.8 1255.5 1435.6 1357.9 1436.4 1293.3 1437.3 1357.9 1438.1 1255.5 1439.0 1357.9 1439.8 1228.6M1441.5 1293.3 1442.3 1190.8 1443.1 1293.3 1444.0 1255.5 1444.8 1357.9M1446.5 1293.3h0.01M1448.2 1357.9 1449.0 1357.9 1449.8 1190.8 1450.7 1293.3 1451.5 1255.5M1453.2 1207.8 1454.0 1293.3 1454.9 1357.9 1455.7 1357.9 1456.5 1293.3 1457.4 1293.3M1459.0 1255.5h0.01M1460.7 1255.5 1461.6 1357.9 1462.4 1293.3 1463.2 1255.5M1465.7 1357.9 1466.6 1293.3M1468.3 1228.6 1469.1 1255.5 1469.9 1293.3M1471.6 1293.3h0.01M1473.3 1255.5h0.01M1475.0 1357.9 1475.8 1357.9 1476.6 1293.3 1477.5 1357.9 1478.3 1357.9 1479.1 1357.9M1480.8 1255.5 1481.6 1255.5 1482.5 1228.6 1483.3 1255.5 1484.2 1255.5 1485.0 1357.9 1485.8 1207.8 1486.7 1228.6 1487.5 1228.6 1488.3 1293.3 1489.2 1255.5 1490.0 1357.9M1491.7 1357.9 1492.5 1207.8M1494.2 1357.9h0.01M1495.9 1357.9 1496.7 1357.9M1499.2 1357.9 1500.1 1255.5M1501.7 1293.3 1502.6 1293.3 1503.4 1293.3M1505.1 1357.9 1505.9 1357.9 1506.8 1207.8M1508.4 1190.8 1509.3 1357.9 1510.1 1357.9 1510.9 1293.3M1512.6 1293.3 1513.5 1357.9 1514.3 1357.9M1516.0 1293.3h0.01M1517.6 1293.3 1518.5 1357.9M1520.2 1357.9 1521.0 1357.9M1522.7 1293.3 1523.5 1207.8 1524.3 1357.9M1526.0 1357.9h0.01M1527.7 1357.9 1528.5 1357.9 1529.4 1357.9 1530.2 1357.9 1531.0 1357.9M1535.2 1357.9 1536.1 1357.9 1536.9 1357.9 1537.7 1357.9 1538.6 1293.3 1539.4 1357.9M1541.1 1357.9 1541.9 1293.3 1542.8 1255.5 1543.6 1293.3 1544.4 1293.3 1545.3 1255.5 1546.1 1357.9 1546.9 1357.9M1549.4 1293.3 1550.3 1293.3M1552.0 1357.9h0.01M1554.5 1357.9 1555.3 1357.9 1556.1 1255.5 1557.0 1357.9 1557.8 1357.9 1558.7 1293.3M1561.2 1255.5 1562.0 1357.9M1564.5 1207.8h0.01M1566.2 1357.9h0.01M1567.9 1357.9h0.01M1572.0 1357.9h0.01M1574.6 1293.3 1575.4 1293.3 1576.2 1357.9 1577.1 1357.9 1577.9 1357.9 1578.7 1293.3M1580.4 1357.9h0.01M1582.1 1357.9 1582.9 1293.3M1585.4 1357.9h0.01M1588.0 1357.9h0.01M1589.6 1293.3h0.01M1591.3 1357.9 1592.1 1293.3M1593.8 1293.3h0.01M1595.5 1255.5 1596.3 1293.3M1598.8 1293.3h0.01M1600.5 1357.9h0.01M1603.9 1357.9 1604.7 1293.3M1606.4 1357.9 1607.2 1255.5M1608.9 1293.3 1609.7 1293.3 1610.6 1293.3 1611.4 1293.3 1612.2 1293.3M1613.9 1293.3 1614.7 1357.9 1615.6 1357.9 1616.4 1293.3M1618.1 1357.9h0.01M1620.6 1357.9 1621.4 1293.3M1623.1 1357.9 1623.9 1357.9 1624.8 1357.9 1625.6 1357.9 1626.5 1357.9 1627.3 1357.9 1628.1 1357.9 1629.0 1357.9 1629.8 1357.9 1630.6 1357.9 1631.5 1357.9 1632.3 1357.9 1633.2 1357.9 1634.0 1357.9 1634.8 1357.9 1635.7 1357.9 1636.5 1357.9 1637.3 1357.9 1638.2 1357.9 1639.0 1357.9 1639.9 1357.9 1640.7 1357.9 1641.5 1357.9 1642.4 1357.9 1643.2 1357.9 1644.0 1357.9 1644.9 1357.9 1645.7 1357.9 1646.5 1357.9 1647.4 1357.9 1648.2 1357.9 1649.1 1357.9 1649.9 1357.9 1650.7 1357.9 1651.6 1357.9 1652.4 1357.9 1653.2 1357.9 1654.1 1357.9 1654.9 1357.9 1655.8 1357.9 1656.6 1357.9 1657.4 1357.9 1658.3 1357.9 1659.1 1357.9 1659.9 1357.9 1660.8 1357.9 1661.6 1357.9 1662.5 1357.9 1663.3 1357.9 1664.1 1357.9 1665.0 1357.9 1665.8 1357.9 1666.6 1357.9 1667.5 1357.9 1668.3 1357.9 1669.1 1357.9 1670.0 1357.9 1670.8 1357.9 1671.7 1357.9 1672.5 1357.9 1673.3 1357.9M1684.2 1357.9 1685.1 1357.9 1685.9 1357.9 1686.7 1357.9 1687.6 1357.9 1688.4 1357.9 1689.2 1357.9 1690.1 1357.9 1690.9 1357.9 1691.7 1357.9 1692.6 1357.9 1693.4 1357.9 1694.3 1357.9 1695.1 1357.9 1695.9 1357.9 1696.8 1357.9 1697.6 1357.9 1698.4 1357.9 1699.3 1357.9 1700.1 1357.9 1701.0 1357.9 1701.8 1357.9 1702.6 1357.9 1703.5 1357.9 1704.3 1357.9 1705.1 1357.9 1706.0 1357.9M1728.6 1357.9 1729.4 1357.9 1730.3 1357.9 1731.1 1357.9 1731.9 1357.9 1732.8 1357.9 1733.6 1357.9 1734.4 1357.9 1735.3 1357.9 1736.1 1357.9 1736.9 1357.9 1737.8 1357.9 1738.6 1357.9M1771.3 1357.9 1772.1 1357.9 1772.9 1357.9 1773.8 1357.9 1774.6 1357.9 1775.5 1357.9 1776.3 1357.9 1777.1 1357.9 1778.0 1357.9 1778.8 1357.9 1779.6 1357.9 1780.5 1357.9 1781.3 1357.9 1782.1 1357.9 1783.0 1357.9 1783.8 1357.9 1784.7 1357.9 1785.5 1357.9 1786.3 1357.9 1787.2 1357.9 1788.0 1357.9" fill="none" stroke="#ff0000" stroke-width="9" stroke-linejoin="round" stroke-linecap="round"/>
<path d="M296.4 321.1 297.2 187.0 298.1 182.2 298.9 184.6 299.7 218.9 300.6 260.8 301.4 304.7 302.2 350.4 303.1 379.7 303.9 405.0 304.8 440.9 305.6 545.3 306.4 675.9 307.3 742.4 308.1 791.7 308.9 772.3 309.8 786.3 310.6 769.6 311.5 798.6 312.3 845.8 313.1 848.7 314.0 846.3 314.8 844.7 315.6 861.5 316.5 918.5 317.3 883.3 318.1 922.1 319.0 879.6 319.8 923.4 320.7 930.7 321.5 970.7 322.3 954.7 323.2 982.2 324.0 975.5 324.8 970.8 325.7 954.2 326.5 1013.6 327.4 1039.6 328.2 961.4 329.0 1066.9 329.9 1013.2 330.7 1045.6 331.5 1007.1 332.4 1050.8 333.2 1051.7 334.1 1012.0 334.9 1045.9 335.7 1101.9 336.6 1084.1 337.4 1076.0 338.2 1035.2 339.1 1137.6 339.9 1099.7 340.7 1101.6 341.6 1038.4 342.4 1112.1 343.3 1124.3 344.1 1097.1 344.9 1112.0 345.8 1060.6 346.6 1156.8 347.4 1039.1 348.3 1096.1 349.1 1097.0 350.0 1065.6 350.8 1221.7 351.6 1185.3 352.5 1145.1 353.3 1085.5 354.1 1155.2 355.0 1166.5 355.8 1168.8 356.7 1193.3 357.5 1201.4 358.3 1127.3 359.2 1214.4 360.0 1285.7 360.8 1227.9 361.7 1152.3 362.5 1226.0 363.3 1231.7 364.2 1199.0 365.0 1261.4 365.9 1212.0 366.7 1255.5 367.5 1357.9 368.4 1207.8 369.2 1357.9 370.0 1255.5 370.9 1293.3 371.7 1228.6 372.6 1357.9 373.4 1255.5 374.2 1357.9 375.1 1228.6 375.9 1293.3 376.7 1255.5 377.6 1357.9 378.4 1207.8 379.3 1357.9 380.1 1255.5 380.9 1293.3 381.8 1228.6 382.6 1357.9 383.4 1255.5 384.3 1357.9 385.1 1228.6 385.9 1293.3 386.8 1255.5 387.6 1357.9 388.5 1207.8 389.3 1207.8 390.1 1207.8 391.0 1255.5 391.8 1228.6 392.6 1207.8 393.5 1207.8 394.3 1228.6 395.2 1255.5 396.0 1293.3 396.8 1255.5 397.7 1357.9 398.5 1255.5 399.3 1357.9 400.2 1228.6 401.0 1293.3 401.9 1357.9 402.7 1255.5 403.5 1357.9 404.4 1255.5 405.2 1357.9 406.0 1228.6 406.9 1293.3 407.7 1357.9 408.5 1255.5 409.4 1357.9 410.2 1255.5 411.1 1357.9 411.9 1228.6 412.7 1293.3 413.6 1357.9 414.4 1357.9 415.2 1357.9 416.1 1357.9M417.8 1357.9 418.6 1357.9 419.4 1293.3 420.3 1357.9 421.1 1357.9 421.9 1255.5 422.8 1255.5 423.6 1293.3 424.5 1357.9 425.3 1357.9 426.1 1357.9 427.0 1357.9 427.8 1357.9 428.6 1357.9 429.5 1357.9 430.3 1357.9 431.2 1293.3 432.0 1357.9 432.8 1357.9 433.7 1293.3 434.5 1357.9 435.3 1357.9M437.8 1293.3 438.7 1357.9M448.7 1293.3 449.6 1357.9 450.4 1357.9 451.2 1357.9 452.1 1357.9 452.9 1293.3 453.8 1293.3 454.6 1357.9 455.4 1357.9 456.3 1293.3 457.1 1357.9 457.9 1357.9 458.8 1357.9 459.6 1293.3 460.4 1228.6 461.3 1228.6 462.1 1357.9 463.0 1357.9 463.8 1293.3 464.6 1293.3 465.5 1293.3 466.3 1293.3M478.0 1357.9 478.9 1357.9M494.8 1357.9 495.6 1357.9 496.4 1357.9 497.3 1357.9M502.3 1357.9 503.1 1357.9 504.0 1357.9 504.8 1357.9 505.6 1357.9 506.5 1357.9 507.3 1293.3 508.2 1293.3 509.0 1357.9 509.8 1357.9 510.7 1357.9 511.5 1357.9 512.3 1357.9M519.9 1357.9 520.7 1357.9 521.6 1357.9 522.4 1357.9 523.2 1357.9 524.1 1357.9 524.9 1357.9 525.7 1357.9M527.4 1357.9 528.2 1357.9 529.1 1357.9 529.9 1357.9 530.8 1357.9 531.6 1357.9 532.4 1357.9 533.3 1357.9 534.1 1357.9 534.9 1357.9 535.8 1357.9 536.6 1357.9 537.5 1357.9 538.3 1357.9M668.9 1357.9 669.7 1357.9 670.5 1357.9 671.4 1357.9 672.2 1357.9 673.1 1357.9 673.9 1357.9 674.7 1357.9 675.6 1357.9 676.4 1357.9 677.2 1357.9 678.1 1357.9 678.9 1357.9 679.8 1357.9 680.6 1357.9 681.4 1357.9 682.3 1357.9 683.1 1357.9 683.9 1357.9 684.8 1357.9M712.4 1357.9 713.2 1357.9M766.0 1357.9 766.8 1357.9M1084.9 1357.9 1085.7 1357.9" fill="none" stroke="#0000ff" stroke-width="9" stroke-linejoin="round" stroke-linecap="round"/>
<g stroke="#222" stroke-width="5"><line x1="225" y1="1405.2" x2="252.5" y2="1405.2"/><line x1="238" y1="1340.6" x2="252.5" y2="1340.6"/><line x1="238" y1="1302.8" x2="252.5" y2="1302.8"/><line x1="238" y1="1276.0" x2="252.5" y2="1276.0"/><line x1="238" y1="1255.1" x2="252.5" y2="1255.1"/><line x1="238" y1="1238.1" x2="252.5" y2="1238.1"/><line x1="238" y1="1223.8" x2="252.5" y2="1223.8"/><line x1="238" y1="1211.3" x2="252.5" y2="1211.3"/><line x1="238" y1="1200.3" x2="252.5" y2="1200.3"/><line x1="225" y1="1190.5" x2="252.5" y2="1190.5"/><line x1="238" y1="1125.9" x2="252.5" y2="1125.9"/><line x1="238" y1="1088.0" x2="252.5" y2="1088.0"/><line x1="238" y1="1061.2" x2="252.5" y2="1061.2"/><line x1="238" y1="1040.4" x2="252.5" y2="1040.4"/><line x1="238" y1="1023.4" x2="252.5" y2="1023.4"/><line x1="238" y1="1009.0" x2="252.5" y2="1009.0"/><line x1="238" y1="996.6" x2="252.5" y2="996.6"/><line x1="238" y1="985.6" x2="252.5" y2="985.6"/><line x1="225" y1="975.8" x2="252.5" y2="975.8"/><line x1="238" y1="911.1" x2="252.5" y2="911.1"/><line x1="238" y1="873.3" x2="252.5" y2="873.3"/><line x1="238" y1="846.5" x2="252.5" y2="846.5"/><line x1="238" y1="825.6" x2="252.5" y2="825.6"/><line x1="238" y1="808.6" x2="252.5" y2="808.6"/><line x1="238" y1="794.3" x2="252.5" y2="794.3"/><line x1="238" y1="781.8" x2="252.5" y2="781.8"/><line x1="238" y1="770.8" x2="252.5" y2="770.8"/><line x1="225" y1="761.0" x2="252.5" y2="761.0"/><line x1="238" y1="696.4" x2="252.5" y2="696.4"/><line x1="238" y1="658.5" x2="252.5" y2="658.5"/><line x1="238" y1="631.7" x2="252.5" y2="631.7"/><line x1="238" y1="610.9" x2="252.5" y2="610.9"/><line x1="238" y1="593.9" x2="252.5" y2="593.9"/><line x1="238" y1="579.5" x2="252.5" y2="579.5"/><line x1="238" y1="567.1" x2="252.5" y2="567.1"/><line x1="238" y1="556.1" x2="252.5" y2="556.1"/><line x1="225" y1="546.2" x2="252.5" y2="546.2"/><line x1="238" y1="481.6" x2="252.5" y2="481.6"/><line x1="238" y1="443.8" x2="252.5" y2="443.8"/><line x1="238" y1="417.0" x2="252.5" y2="417.0"/><line x1="238" y1="396.1" x2="252.5" y2="396.1"/><line x1="238" y1="379.1" x2="252.5" y2="379.1"/><line x1="238" y1="364.8" x2="252.5" y2="364.8"/><line x1="238" y1="352.3" x2="252.5" y2="352.3"/><line x1="238" y1="341.3" x2="252.5" y2="341.3"/><line x1="225" y1="331.5" x2="252.5" y2="331.5"/><line x1="238" y1="266.9" x2="252.5" y2="266.9"/><line x1="238" y1="229.0" x2="252.5" y2="229.0"/><line x1="238" y1="202.2" x2="252.5" y2="202.2"/><line x1="238" y1="181.4" x2="252.5" y2="181.4"/><line x1="238" y1="164.4" x2="252.5" y2="164.4"/><line x1="238" y1="150.0" x2="252.5" y2="150.0"/><line x1="238" y1="137.6" x2="252.5" y2="137.6"/><line x1="238" y1="126.6" x2="252.5" y2="126.6"/><line x1="225" y1="116.8" x2="252.5" y2="116.8"/><line x1="238" y1="52.1" x2="252.5" y2="52.1"/><line x1="292.2" y1="1405.5" x2="292.2" y2="1432"/><line x1="710.7" y1="1405.5" x2="710.7" y2="1432"/><line x1="1129.2" y1="1405.5" x2="1129.2" y2="1432"/><line x1="1547.8" y1="1405.5" x2="1547.8" y2="1432"/><line x1="1966.3" y1="1405.5" x2="1966.3" y2="1432"/><line x1="501.5" y1="1405.5" x2="501.5" y2="1420"/><line x1="920.0" y1="1405.5" x2="920.0" y2="1420"/><line x1="1338.5" y1="1405.5" x2="1338.5" y2="1420"/><line x1="1757.0" y1="1405.5" x2="1757.0" y2="1420"/></g>
<rect x="252.5" y="25.0" width="1713.8" height="1380.5" fill="none" stroke="#000" stroke-width="4.5"/>
<g font-family="'Liberation Sans', Arial, sans-serif" font-size="60" fill="#000"><text x="207" y="1425.5" text-anchor="end">10<tspan dy="-24" font-size="40">-3</tspan></text><text x="207" y="1210.8" text-anchor="end">10<tspan dy="-24" font-size="40">-2</tspan></text><text x="207" y="996.0" text-anchor="end">10<tspan dy="-24" font-size="40">-1</tspan></text><text x="207" y="781.3" text-anchor="end">10<tspan dy="-24" font-size="40">0</tspan></text><text x="207" y="566.5" text-anchor="end">10<tspan dy="-24" font-size="40">1</tspan></text><text x="207" y="351.8" text-anchor="end">10<tspan dy="-24" font-size="40">2</tspan></text><text x="207" y="137.1" text-anchor="end">10<tspan dy="-24" font-size="40">3</tspan></text><text x="292.2" y="1497" text-anchor="middle">0</text><text x="710.7" y="1497" text-anchor="middle">500</text><text x="1129.2" y="1497" text-anchor="middle">1000</text><text x="1547.8" y="1497" text-anchor="middle">1500</text><text x="1966.3" y="1497" text-anchor="middle">2000</text></g>
<text x="1110" y="1579" text-anchor="middle" font-family="'Liberation Sans', Arial, sans-serif" font-size="73">Channels</text>
<text transform="translate(88 1029) rotate(-90) scale(0.97 1)" font-family="'Liberation Sans', Arial, sans-serif" font-size="74">Counts(s<tspan dy="-30.6" font-size="52">−1</tspan><tspan dy="30.6">·channel</tspan><tspan dy="-30.6" font-size="52">−1</tspan><tspan dy="30.6">)</tspan></text>
<g>
<rect x="666" y="64" width="1276" height="273" fill="#fff" stroke="#999" stroke-width="3"/>
<line x1="673" y1="111.5" x2="841" y2="111.5" stroke="#000" stroke-width="9"/>
<line x1="673" y1="200" x2="841" y2="200" stroke="#ff0000" stroke-width="9"/>
<line x1="673" y1="288" x2="841" y2="288" stroke="#0000ff" stroke-width="9"/>
<g font-family="'Liberation Sans', Arial, sans-serif" font-size="72" fill="#000">
<text x="857.5" y="136">Accelerator on + without shielding</text>
<text x="857.5" y="225">Accelerator on + with shielding</text>
<text x="857.5" y="313">Accelerator off + without shielding</text>
</g>
</g>
<g font-family="'Liberation Serif', 'Times New Roman', serif" font-size="90" font-weight="bold" fill="#000">
<text transform="translate(776.5 803.6) scale(0.894 1)" font-style="italic">α</text>
<text x="819.2" y="809.2" font-size="104" font-weight="normal">+</text>
<text transform="translate(872.3 777) scale(0.93 1)" font-size="63" font-style="italic">7</text>
<text x="903" y="804">Li</text>
<text transform="translate(1360.2 958) scale(0.91 1)" font-style="italic">α</text>
</g>
<g fill="#0000ff" stroke="#0000ff">
<line x1="807" y1="820" x2="780" y2="880" stroke-width="8"/>
<polygon points="769,900 767,873 792,883" stroke-width="2"/>
<line x1="1354" y1="969" x2="1325" y2="1030" stroke-width="8"/>
<polygon points="1314,1051 1313,1024 1337,1034" stroke-width="2"/>
</g>
</svg>
</body></html>
